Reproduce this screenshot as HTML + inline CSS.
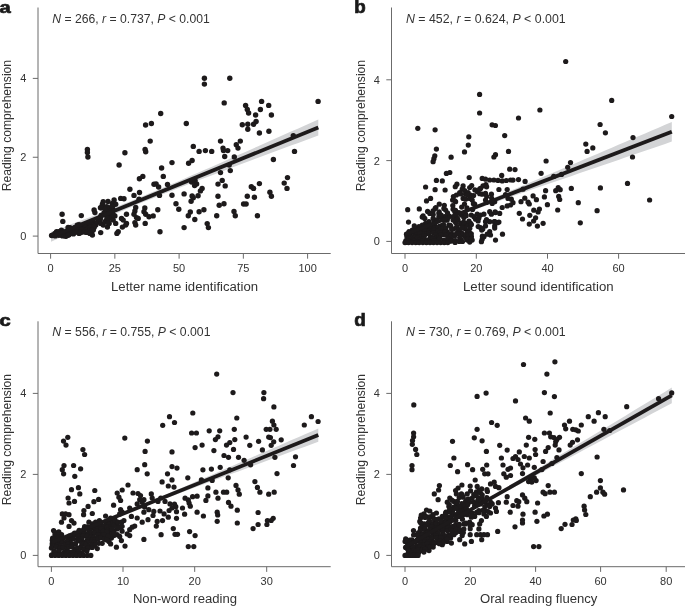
<!DOCTYPE html><html><head><meta charset="utf-8"><title>Figure</title><style>html,body{margin:0;padding:0;background:#fff}svg{display:block}</style></head><body><svg width="685" height="606" viewBox="0 0 685 606" style="display:block"><rect width="685" height="606" fill="#fff"/><g font-family="'Liberation Sans', Arial, sans-serif" font-size="11.5" fill="#333"><path d="M38 7.5V253.5H330.7" fill="none" stroke="#6b6b6b" stroke-width="1"/><path d="M50.6 253.5v5.2" stroke="#6b6b6b" stroke-width="1"/><text x="50.6" y="272.4" text-anchor="middle" font-size="11">0</text><path d="M114.85 253.5v5.2" stroke="#6b6b6b" stroke-width="1"/><text x="114.85" y="272.4" text-anchor="middle" font-size="11">25</text><path d="M179.1 253.5v5.2" stroke="#6b6b6b" stroke-width="1"/><text x="179.1" y="272.4" text-anchor="middle" font-size="11">50</text><path d="M243.35 253.5v5.2" stroke="#6b6b6b" stroke-width="1"/><text x="243.35" y="272.4" text-anchor="middle" font-size="11">75</text><path d="M307.6 253.5v5.2" stroke="#6b6b6b" stroke-width="1"/><text x="307.6" y="272.4" text-anchor="middle" font-size="11">100</text><path d="M38 236.1h-5.2" stroke="#6b6b6b" stroke-width="1"/><text x="26.4" y="240.0" text-anchor="end" font-size="11">0</text><path d="M38 157.25h-5.2" stroke="#6b6b6b" stroke-width="1"/><text x="26.4" y="161.15" text-anchor="end" font-size="11">2</text><path d="M38 78.4h-5.2" stroke="#6b6b6b" stroke-width="1"/><text x="26.4" y="82.30000000000001" text-anchor="end" font-size="11">4</text><text x="111" y="291" font-size="12" textLength="147.1" lengthAdjust="spacingAndGlyphs">Letter name identification</text><text transform="translate(10.9 191.3) rotate(-90)" font-size="12" textLength="131.4" lengthAdjust="spacingAndGlyphs">Reading comprehension</text><text x="-0.6" y="13.0" font-weight="bold" font-size="16.8" fill="#1a1a1a" stroke="#1a1a1a" stroke-width="0.7" textLength="11.2" lengthAdjust="spacingAndGlyphs">a</text><text x="52.3" y="23.0" font-size="12" textLength="157.5" lengthAdjust="spacingAndGlyphs"><tspan font-style="italic">N</tspan> = 266, <tspan font-style="italic">r</tspan> = 0.737, <tspan font-style="italic">P</tspan> &lt; 0.001</text><path d="M51.0 231.9L57.7 229.4L64.4 226.9L71.0 224.3L77.7 221.8L84.4 219.2L91.1 216.7L97.8 214.1L104.5 211.5L111.1 208.8L117.8 206.2L124.5 203.5L131.2 200.9L137.9 198.1L144.6 195.4L151.2 192.6L157.9 189.9L164.6 187.1L171.3 184.2L178.0 181.4L184.7 178.5L191.3 175.6L198.0 172.7L204.7 169.8L211.4 166.9L218.1 164.0L224.7 161.0L231.4 158.1L238.1 155.1L244.8 152.2L251.5 149.2L258.2 146.2L264.8 143.3L271.5 140.3L278.2 137.3L284.9 134.3L291.6 131.3L298.3 128.4L304.9 125.4L311.6 122.4L318.3 119.4L318.3 135.4L311.6 137.9L304.9 140.4L298.3 142.9L291.6 145.3L284.9 147.8L278.2 150.3L271.5 152.8L264.8 155.3L258.2 157.8L251.5 160.3L244.8 162.8L238.1 165.3L231.4 167.8L224.7 170.4L218.1 172.9L211.4 175.4L204.7 178.0L198.0 180.5L191.3 183.1L184.7 185.7L178.0 188.3L171.3 190.9L164.6 193.6L157.9 196.2L151.2 198.9L144.6 201.6L137.9 204.3L131.2 207.1L124.5 209.9L117.8 212.7L111.1 215.5L104.5 218.4L97.8 221.2L91.1 224.1L84.4 227.0L77.7 229.9L71.0 232.9L64.4 235.8L57.7 238.7L51.0 241.7Z" fill="#d3d4d6"/><g fill="#1d1a1b"><circle cx="204.4" cy="78.3" r="2.7"/><circle cx="204.4" cy="84.1" r="2.7"/><circle cx="229.8" cy="78.3" r="2.7"/><circle cx="318.1" cy="101.4" r="2.7"/><circle cx="224.2" cy="102.9" r="2.7"/><circle cx="261.6" cy="101.4" r="2.7"/><circle cx="245.6" cy="105.4" r="2.7"/><circle cx="268.7" cy="105.4" r="2.7"/><circle cx="260.4" cy="109.5" r="2.7"/><circle cx="247.3" cy="109.5" r="2.7"/><circle cx="248.6" cy="113.0" r="2.7"/><circle cx="255.6" cy="115.0" r="2.7"/><circle cx="271.4" cy="115.0" r="2.7"/><circle cx="186.3" cy="123.5" r="2.7"/><circle cx="242.3" cy="124.8" r="2.7"/><circle cx="247.8" cy="124.3" r="2.7"/><circle cx="256.1" cy="121.5" r="2.7"/><circle cx="253.6" cy="124.3" r="2.7"/><circle cx="247.8" cy="129.3" r="2.7"/><circle cx="259.4" cy="133.0" r="2.7"/><circle cx="268.9" cy="131.3" r="2.7"/><circle cx="220.5" cy="141.1" r="2.7"/><circle cx="240.3" cy="141.1" r="2.7"/><circle cx="236.3" cy="144.8" r="2.7"/><circle cx="238.0" cy="148.1" r="2.7"/><circle cx="193.3" cy="146.4" r="2.7"/><circle cx="223.0" cy="148.1" r="2.7"/><circle cx="227.7" cy="150.6" r="2.7"/><circle cx="205.4" cy="150.6" r="2.7"/><circle cx="211.7" cy="151.4" r="2.7"/><circle cx="199.1" cy="151.4" r="2.7"/><circle cx="293.3" cy="135.6" r="2.7"/><circle cx="294.5" cy="151.4" r="2.7"/><circle cx="273.4" cy="159.5" r="2.7"/><circle cx="287.5" cy="177.6" r="2.7"/><circle cx="284.2" cy="183.1" r="2.7"/><circle cx="287.0" cy="188.4" r="2.7"/><circle cx="259.4" cy="183.6" r="2.7"/><circle cx="251.3" cy="186.7" r="2.7"/><circle cx="253.6" cy="188.4" r="2.7"/><circle cx="269.9" cy="192.2" r="2.7"/><circle cx="271.4" cy="196.2" r="2.7"/><circle cx="247.3" cy="196.2" r="2.7"/><circle cx="254.4" cy="197.2" r="2.7"/><circle cx="243.6" cy="204.0" r="2.7"/><circle cx="246.1" cy="204.0" r="2.7"/><circle cx="257.4" cy="215.8" r="2.7"/><circle cx="234.0" cy="211.5" r="2.7"/><circle cx="235.3" cy="215.8" r="2.7"/><circle cx="224.0" cy="203.7" r="2.7"/><circle cx="219.2" cy="205.2" r="2.7"/><circle cx="218.0" cy="196.2" r="2.7"/><circle cx="218.0" cy="184.1" r="2.7"/><circle cx="222.2" cy="180.4" r="2.7"/><circle cx="225.2" cy="185.9" r="2.7"/><circle cx="220.5" cy="172.6" r="2.7"/><circle cx="230.3" cy="170.6" r="2.7"/><circle cx="229.2" cy="165.1" r="2.7"/><circle cx="234.3" cy="157.0" r="2.7"/><circle cx="224.7" cy="156.5" r="2.7"/><circle cx="223.5" cy="150.5" r="2.7"/><circle cx="192.1" cy="160.5" r="2.7"/><circle cx="188.6" cy="163.3" r="2.7"/><circle cx="191.6" cy="182.1" r="2.7"/><circle cx="195.1" cy="180.6" r="2.7"/><circle cx="196.6" cy="183.9" r="2.7"/><circle cx="194.6" cy="185.6" r="2.7"/><circle cx="202.1" cy="188.4" r="2.7"/><circle cx="200.4" cy="190.9" r="2.7"/><circle cx="198.1" cy="195.7" r="2.7"/><circle cx="192.1" cy="195.9" r="2.7"/><circle cx="193.3" cy="197.7" r="2.7"/><circle cx="191.1" cy="201.2" r="2.7"/><circle cx="184.1" cy="193.9" r="2.7"/><circle cx="176.0" cy="203.7" r="2.7"/><circle cx="178.8" cy="209.2" r="2.7"/><circle cx="190.3" cy="212.0" r="2.7"/><circle cx="188.3" cy="215.8" r="2.7"/><circle cx="199.1" cy="211.8" r="2.7"/><circle cx="203.9" cy="209.7" r="2.7"/><circle cx="194.8" cy="219.5" r="2.7"/><circle cx="216.7" cy="215.8" r="2.7"/><circle cx="207.2" cy="223.6" r="2.7"/><circle cx="208.4" cy="227.6" r="2.7"/><circle cx="184.1" cy="227.6" r="2.7"/><circle cx="172.0" cy="195.2" r="2.7"/><circle cx="172.0" cy="162.6" r="2.7"/><circle cx="87.4" cy="152.5" r="2.7"/><circle cx="87.9" cy="157.0" r="2.7"/><circle cx="124.9" cy="152.8" r="2.7"/><circle cx="145.7" cy="151.7" r="2.7"/><circle cx="119.1" cy="165.0" r="2.7"/><circle cx="142.8" cy="176.4" r="2.7"/><circle cx="139.4" cy="178.7" r="2.7"/><circle cx="129.9" cy="189.2" r="2.7"/><circle cx="139.5" cy="192.5" r="2.7"/><circle cx="134.0" cy="195.4" r="2.7"/><circle cx="154.0" cy="184.2" r="2.7"/><circle cx="120.7" cy="198.4" r="2.7"/><circle cx="124.0" cy="198.7" r="2.7"/><circle cx="139.0" cy="199.2" r="2.7"/><circle cx="114.1" cy="200.0" r="2.7"/><circle cx="103.2" cy="201.7" r="2.7"/><circle cx="112.4" cy="203.4" r="2.7"/><circle cx="102.4" cy="204.2" r="2.7"/><circle cx="115.7" cy="204.2" r="2.7"/><circle cx="94.1" cy="210.0" r="2.7"/><circle cx="94.9" cy="212.6" r="2.7"/><circle cx="81.3" cy="215.6" r="2.7"/><circle cx="62.1" cy="214.2" r="2.7"/><circle cx="62.8" cy="221.4" r="2.7"/><circle cx="144.8" cy="208.0" r="2.7"/><circle cx="144.0" cy="211.7" r="2.7"/><circle cx="145.7" cy="214.2" r="2.7"/><circle cx="149.0" cy="216.7" r="2.7"/><circle cx="153.2" cy="215.9" r="2.7"/><circle cx="135.7" cy="207.5" r="2.7"/><circle cx="134.9" cy="210.9" r="2.7"/><circle cx="134.0" cy="214.2" r="2.7"/><circle cx="136.5" cy="217.6" r="2.7"/><circle cx="138.2" cy="218.4" r="2.7"/><circle cx="126.5" cy="214.2" r="2.7"/><circle cx="121.5" cy="218.4" r="2.7"/><circle cx="123.2" cy="220.1" r="2.7"/><circle cx="126.5" cy="223.4" r="2.7"/><circle cx="125.7" cy="225.1" r="2.7"/><circle cx="115.7" cy="223.4" r="2.7"/><circle cx="134.9" cy="222.6" r="2.7"/><circle cx="135.7" cy="225.1" r="2.7"/><circle cx="145.2" cy="223.4" r="2.7"/><circle cx="122.4" cy="227.1" r="2.7"/><circle cx="118.2" cy="231.7" r="2.7"/><circle cx="116.9" cy="233.4" r="2.7"/><circle cx="100.7" cy="232.6" r="2.7"/><circle cx="107.4" cy="227.1" r="2.7"/><circle cx="109.1" cy="223.4" r="2.7"/><circle cx="104.9" cy="207.5" r="2.7"/><circle cx="106.6" cy="209.2" r="2.7"/><circle cx="108.2" cy="210.9" r="2.7"/><circle cx="109.9" cy="208.4" r="2.7"/><circle cx="111.6" cy="206.7" r="2.7"/><circle cx="104.1" cy="212.6" r="2.7"/><circle cx="105.7" cy="215.1" r="2.7"/><circle cx="107.4" cy="216.7" r="2.7"/><circle cx="109.9" cy="215.1" r="2.7"/><circle cx="111.6" cy="212.6" r="2.7"/><circle cx="113.2" cy="210.0" r="2.7"/><circle cx="100.7" cy="216.7" r="2.7"/><circle cx="99.1" cy="219.2" r="2.7"/><circle cx="98.2" cy="221.7" r="2.7"/><circle cx="100.7" cy="223.4" r="2.7"/><circle cx="103.2" cy="225.1" r="2.7"/><circle cx="104.9" cy="221.7" r="2.7"/><circle cx="106.6" cy="220.1" r="2.7"/><circle cx="109.1" cy="218.4" r="2.7"/><circle cx="111.6" cy="217.6" r="2.7"/><circle cx="113.2" cy="220.1" r="2.7"/><circle cx="114.9" cy="215.9" r="2.7"/><circle cx="95.8" cy="225.1" r="2.7"/><circle cx="94.1" cy="227.6" r="2.7"/><circle cx="93.3" cy="230.1" r="2.7"/><circle cx="91.6" cy="232.6" r="2.7"/><circle cx="92.4" cy="235.1" r="2.7"/><circle cx="89.9" cy="233.4" r="2.7"/><circle cx="88.3" cy="225.1" r="2.7"/><circle cx="86.6" cy="226.7" r="2.7"/><circle cx="84.9" cy="227.6" r="2.7"/><circle cx="83.3" cy="228.4" r="2.7"/><circle cx="81.6" cy="229.2" r="2.7"/><circle cx="79.9" cy="230.1" r="2.7"/><circle cx="78.3" cy="228.4" r="2.7"/><circle cx="76.6" cy="229.2" r="2.7"/><circle cx="74.9" cy="227.6" r="2.7"/><circle cx="73.3" cy="228.4" r="2.7"/><circle cx="71.6" cy="230.1" r="2.7"/><circle cx="70.0" cy="227.6" r="2.7"/><circle cx="68.3" cy="230.9" r="2.7"/><circle cx="66.6" cy="231.7" r="2.7"/><circle cx="65.0" cy="232.6" r="2.7"/><circle cx="63.3" cy="233.4" r="2.7"/><circle cx="61.6" cy="234.2" r="2.7"/><circle cx="60.0" cy="233.4" r="2.7"/><circle cx="58.3" cy="232.6" r="2.7"/><circle cx="56.6" cy="231.7" r="2.7"/><circle cx="55.0" cy="233.4" r="2.7"/><circle cx="53.3" cy="235.1" r="2.7"/><circle cx="51.6" cy="235.4" r="2.7"/><circle cx="80.8" cy="232.6" r="2.7"/><circle cx="79.1" cy="233.4" r="2.7"/><circle cx="70.8" cy="233.4" r="2.7"/><circle cx="69.1" cy="234.2" r="2.7"/><circle cx="65.0" cy="235.9" r="2.7"/><circle cx="62.5" cy="235.9" r="2.7"/><circle cx="89.9" cy="228.4" r="2.7"/><circle cx="91.6" cy="226.7" r="2.7"/><circle cx="89.1" cy="230.1" r="2.7"/><circle cx="160.7" cy="113.5" r="2.7"/><circle cx="151.4" cy="123.5" r="2.7"/><circle cx="145.6" cy="125.0" r="2.7"/><circle cx="150.2" cy="141.1" r="2.7"/><circle cx="87.4" cy="149.4" r="2.7"/><circle cx="145.1" cy="149.4" r="2.7"/><circle cx="161.6" cy="168.0" r="2.7"/><circle cx="163.3" cy="176.4" r="2.7"/><circle cx="156.1" cy="183.9" r="2.7"/><circle cx="158.6" cy="187.0" r="2.7"/><circle cx="167.5" cy="184.5" r="2.7"/><circle cx="159.5" cy="195.4" r="2.7"/><circle cx="157.8" cy="209.7" r="2.7"/><circle cx="160.0" cy="231.7" r="2.7"/><circle cx="94.4" cy="222.6" r="2.7"/><circle cx="77.2" cy="225.2" r="2.7"/><circle cx="79.0" cy="224.8" r="2.7"/><circle cx="83.2" cy="225.8" r="2.7"/><circle cx="87.2" cy="224.0" r="2.7"/><circle cx="91.4" cy="223.4" r="2.7"/><circle cx="93.1" cy="225.4" r="2.7"/><circle cx="68.1" cy="227.4" r="2.7"/><circle cx="72.3" cy="228.9" r="2.7"/><circle cx="74.6" cy="228.1" r="2.7"/><circle cx="76.7" cy="228.2" r="2.7"/><circle cx="81.9" cy="229.1" r="2.7"/><circle cx="85.8" cy="226.9" r="2.7"/><circle cx="87.9" cy="228.1" r="2.7"/><circle cx="90.2" cy="227.4" r="2.7"/><circle cx="94.0" cy="226.4" r="2.7"/><circle cx="59.0" cy="231.6" r="2.7"/><circle cx="61.4" cy="230.3" r="2.7"/><circle cx="66.3" cy="231.7" r="2.7"/><circle cx="70.5" cy="231.6" r="2.7"/><circle cx="72.3" cy="230.2" r="2.7"/><circle cx="75.9" cy="231.7" r="2.7"/><circle cx="81.1" cy="229.4" r="2.7"/><circle cx="82.1" cy="229.7" r="2.7"/><circle cx="85.7" cy="230.5" r="2.7"/><circle cx="90.2" cy="229.8" r="2.7"/><circle cx="91.8" cy="230.3" r="2.7"/><circle cx="55.6" cy="234.0" r="2.7"/><circle cx="57.7" cy="233.8" r="2.7"/><circle cx="61.6" cy="232.1" r="2.7"/><circle cx="65.7" cy="234.3" r="2.7"/><circle cx="69.0" cy="234.4" r="2.7"/><circle cx="70.9" cy="233.1" r="2.7"/><circle cx="73.4" cy="233.9" r="2.7"/><circle cx="76.7" cy="232.1" r="2.7"/><circle cx="80.5" cy="232.4" r="2.7"/><circle cx="84.3" cy="232.1" r="2.7"/><circle cx="86.7" cy="232.4" r="2.7"/><circle cx="90.4" cy="233.0" r="2.7"/><circle cx="52.9" cy="235.3" r="2.7"/><circle cx="55.2" cy="235.9" r="2.7"/><circle cx="58.9" cy="235.2" r="2.7"/><circle cx="66.0" cy="236.3" r="2.7"/><circle cx="68.3" cy="235.2" r="2.7"/><circle cx="108.0" cy="201.5" r="2.7"/><circle cx="100.5" cy="207.8" r="2.7"/><circle cx="106.7" cy="206.8" r="2.7"/><circle cx="112.6" cy="206.5" r="2.7"/><circle cx="101.1" cy="207.8" r="2.7"/><circle cx="105.3" cy="209.2" r="2.7"/><circle cx="112.5" cy="211.4" r="2.7"/><circle cx="101.3" cy="215.3" r="2.7"/><circle cx="107.2" cy="218.2" r="2.7"/><circle cx="113.3" cy="214.9" r="2.7"/><circle cx="100.2" cy="219.2" r="2.7"/><circle cx="108.5" cy="222.9" r="2.7"/></g><path d="M51 236.8L318.3 127.4" stroke="#1d1a1b" stroke-width="3.8" fill="none"/><path d="M391.5 7.5V253.5H685" fill="none" stroke="#6b6b6b" stroke-width="1"/><path d="M405 253.5v5.2" stroke="#6b6b6b" stroke-width="1"/><text x="405" y="272.4" text-anchor="middle" font-size="11">0</text><path d="M476.3 253.5v5.2" stroke="#6b6b6b" stroke-width="1"/><text x="476.3" y="272.4" text-anchor="middle" font-size="11">20</text><path d="M547.5 253.5v5.2" stroke="#6b6b6b" stroke-width="1"/><text x="547.5" y="272.4" text-anchor="middle" font-size="11">40</text><path d="M618.6 253.5v5.2" stroke="#6b6b6b" stroke-width="1"/><text x="618.6" y="272.4" text-anchor="middle" font-size="11">60</text><path d="M391.5 241.4h-5.2" stroke="#6b6b6b" stroke-width="1"/><text x="379.9" y="245.3" text-anchor="end" font-size="11">0</text><path d="M391.5 160.6h-5.2" stroke="#6b6b6b" stroke-width="1"/><text x="379.9" y="164.5" text-anchor="end" font-size="11">2</text><path d="M391.5 79.8h-5.2" stroke="#6b6b6b" stroke-width="1"/><text x="379.9" y="83.7" text-anchor="end" font-size="11">4</text><text x="463" y="291" font-size="12" textLength="150.6" lengthAdjust="spacingAndGlyphs">Letter sound identification</text><text transform="translate(364.5 191.3) rotate(-90)" font-size="12" textLength="131.4" lengthAdjust="spacingAndGlyphs">Reading comprehension</text><text x="354.3" y="13.0" font-weight="bold" font-size="17.8" fill="#1a1a1a" stroke="#1a1a1a" stroke-width="0.7" textLength="11.5" lengthAdjust="spacingAndGlyphs">b</text><text x="406" y="23.0" font-size="12" textLength="159.7" lengthAdjust="spacingAndGlyphs"><tspan font-style="italic">N</tspan> = 452, <tspan font-style="italic">r</tspan> = 0.624, <tspan font-style="italic">P</tspan> &lt; 0.001</text><path d="M405.0 232.1L411.7 229.8L418.3 227.4L425.0 225.0L431.7 222.6L438.4 220.1L445.0 217.6L451.7 215.0L458.4 212.4L465.0 209.7L471.7 207.0L478.4 204.3L485.0 201.5L491.7 198.7L498.4 195.9L505.0 193.1L511.7 190.3L518.4 187.5L525.1 184.6L531.7 181.8L538.4 179.0L545.1 176.1L551.7 173.3L558.4 170.4L565.1 167.6L571.8 164.7L578.4 161.9L585.1 159.1L591.8 156.2L598.4 153.4L605.1 150.5L611.8 147.7L618.4 144.8L625.1 142.0L631.8 139.1L638.4 136.3L645.1 133.4L651.8 130.6L658.5 127.7L665.1 124.8L671.8 122.0L671.8 141.6L665.1 143.9L658.5 146.2L651.8 148.5L645.1 150.7L638.4 153.0L631.8 155.3L625.1 157.6L618.4 159.9L611.8 162.2L605.1 164.4L598.4 166.7L591.8 169.0L585.1 171.3L578.4 173.6L571.8 175.9L565.1 178.2L558.4 180.5L551.7 182.8L545.1 185.0L538.4 187.3L531.7 189.6L525.1 191.9L518.4 194.2L511.7 196.6L505.0 198.9L498.4 201.2L491.7 203.5L485.0 205.9L478.4 208.3L471.7 210.6L465.0 213.1L458.4 215.5L451.7 218.0L445.0 220.6L438.4 223.2L431.7 225.9L425.0 228.6L418.3 231.3L411.7 234.1L405.0 236.9Z" fill="#d3d4d6"/><g fill="#1d1a1b"><circle cx="479.6" cy="94.4" r="2.62"/><circle cx="479.6" cy="113.0" r="2.62"/><circle cx="417.8" cy="128.3" r="2.62"/><circle cx="435.1" cy="129.8" r="2.62"/><circle cx="492.1" cy="124.8" r="2.62"/><circle cx="495.4" cy="125.5" r="2.62"/><circle cx="468.8" cy="136.8" r="2.62"/><circle cx="504.7" cy="135.6" r="2.62"/><circle cx="468.3" cy="145.1" r="2.62"/><circle cx="436.4" cy="149.1" r="2.62"/><circle cx="508.5" cy="151.4" r="2.62"/><circle cx="464.5" cy="151.9" r="2.62"/><circle cx="565.7" cy="61.5" r="2.62"/><circle cx="611.7" cy="100.4" r="2.62"/><circle cx="539.9" cy="110.0" r="2.62"/><circle cx="518.5" cy="118.0" r="2.62"/><circle cx="671.7" cy="116.5" r="2.62"/><circle cx="600.1" cy="124.5" r="2.62"/><circle cx="605.4" cy="132.8" r="2.62"/><circle cx="633.0" cy="137.6" r="2.62"/><circle cx="585.8" cy="144.1" r="2.62"/><circle cx="592.8" cy="147.9" r="2.62"/><circle cx="587.1" cy="151.4" r="2.62"/><circle cx="632.5" cy="157.0" r="2.62"/><circle cx="546.1" cy="161.0" r="2.62"/><circle cx="570.5" cy="162.6" r="2.62"/><circle cx="567.7" cy="167.3" r="2.62"/><circle cx="541.1" cy="173.3" r="2.62"/><circle cx="515.0" cy="169.6" r="2.62"/><circle cx="518.5" cy="179.6" r="2.62"/><circle cx="525.1" cy="181.4" r="2.62"/><circle cx="513.0" cy="180.1" r="2.62"/><circle cx="553.7" cy="176.4" r="2.62"/><circle cx="561.5" cy="174.4" r="2.62"/><circle cx="523.0" cy="189.2" r="2.62"/><circle cx="545.6" cy="190.7" r="2.62"/><circle cx="558.2" cy="187.7" r="2.62"/><circle cx="555.7" cy="190.7" r="2.62"/><circle cx="560.2" cy="189.7" r="2.62"/><circle cx="571.3" cy="188.4" r="2.62"/><circle cx="600.4" cy="187.9" r="2.62"/><circle cx="627.5" cy="183.4" r="2.62"/><circle cx="649.6" cy="200.0" r="2.62"/><circle cx="533.1" cy="195.9" r="2.62"/><circle cx="544.4" cy="196.9" r="2.62"/><circle cx="558.7" cy="196.4" r="2.62"/><circle cx="559.7" cy="199.5" r="2.62"/><circle cx="524.8" cy="198.2" r="2.62"/><circle cx="536.4" cy="199.7" r="2.62"/><circle cx="521.0" cy="201.7" r="2.62"/><circle cx="528.1" cy="202.2" r="2.62"/><circle cx="529.3" cy="204.0" r="2.62"/><circle cx="547.4" cy="204.7" r="2.62"/><circle cx="578.3" cy="202.7" r="2.62"/><circle cx="597.1" cy="210.7" r="2.62"/><circle cx="557.7" cy="210.0" r="2.62"/><circle cx="539.4" cy="209.0" r="2.62"/><circle cx="533.8" cy="210.2" r="2.62"/><circle cx="538.1" cy="212.0" r="2.62"/><circle cx="519.3" cy="213.3" r="2.62"/><circle cx="529.8" cy="215.3" r="2.62"/><circle cx="535.6" cy="217.8" r="2.62"/><circle cx="522.5" cy="219.0" r="2.62"/><circle cx="533.6" cy="221.0" r="2.62"/><circle cx="529.3" cy="224.1" r="2.62"/><circle cx="543.1" cy="223.3" r="2.62"/><circle cx="537.4" cy="226.1" r="2.62"/><circle cx="580.3" cy="222.8" r="2.62"/><circle cx="513.0" cy="202.7" r="2.62"/><circle cx="495.5" cy="154.7" r="2.62"/><circle cx="493.9" cy="157.0" r="2.62"/><circle cx="434.8" cy="155.8" r="2.62"/><circle cx="433.9" cy="158.7" r="2.62"/><circle cx="433.1" cy="161.7" r="2.62"/><circle cx="451.1" cy="157.2" r="2.62"/><circle cx="509.7" cy="169.2" r="2.62"/><circle cx="449.8" cy="172.5" r="2.62"/><circle cx="446.4" cy="173.4" r="2.62"/><circle cx="469.2" cy="177.5" r="2.62"/><circle cx="501.7" cy="175.4" r="2.62"/><circle cx="482.2" cy="178.4" r="2.62"/><circle cx="485.5" cy="179.2" r="2.62"/><circle cx="489.7" cy="180.0" r="2.62"/><circle cx="493.9" cy="180.0" r="2.62"/><circle cx="498.0" cy="180.4" r="2.62"/><circle cx="502.2" cy="180.9" r="2.62"/><circle cx="506.3" cy="180.5" r="2.62"/><circle cx="510.5" cy="180.0" r="2.62"/><circle cx="436.4" cy="180.4" r="2.62"/><circle cx="442.3" cy="180.9" r="2.62"/><circle cx="425.6" cy="187.0" r="2.62"/><circle cx="435.1" cy="189.7" r="2.62"/><circle cx="445.1" cy="190.0" r="2.62"/><circle cx="456.9" cy="184.2" r="2.62"/><circle cx="455.3" cy="186.7" r="2.62"/><circle cx="463.1" cy="185.9" r="2.62"/><circle cx="462.2" cy="189.2" r="2.62"/><circle cx="471.7" cy="185.5" r="2.62"/><circle cx="469.7" cy="187.5" r="2.62"/><circle cx="483.0" cy="185.9" r="2.62"/><circle cx="480.5" cy="188.4" r="2.62"/><circle cx="498.9" cy="189.5" r="2.62"/><circle cx="507.2" cy="189.5" r="2.62"/><circle cx="468.1" cy="192.5" r="2.62"/><circle cx="465.6" cy="194.2" r="2.62"/><circle cx="470.6" cy="195.0" r="2.62"/><circle cx="477.2" cy="191.7" r="2.62"/><circle cx="479.7" cy="193.7" r="2.62"/><circle cx="482.2" cy="194.2" r="2.62"/><circle cx="485.5" cy="193.4" r="2.62"/><circle cx="491.4" cy="194.2" r="2.62"/><circle cx="456.4" cy="195.0" r="2.62"/><circle cx="430.6" cy="198.4" r="2.62"/><circle cx="426.5" cy="200.9" r="2.62"/><circle cx="452.6" cy="200.0" r="2.62"/><circle cx="455.6" cy="201.7" r="2.62"/><circle cx="463.1" cy="198.4" r="2.62"/><circle cx="465.6" cy="199.2" r="2.62"/><circle cx="469.7" cy="198.4" r="2.62"/><circle cx="472.2" cy="200.0" r="2.62"/><circle cx="474.7" cy="204.2" r="2.62"/><circle cx="485.5" cy="200.0" r="2.62"/><circle cx="486.4" cy="202.5" r="2.62"/><circle cx="505.5" cy="194.7" r="2.62"/><circle cx="508.0" cy="198.4" r="2.62"/><circle cx="511.3" cy="199.2" r="2.62"/><circle cx="439.3" cy="204.2" r="2.62"/><circle cx="435.9" cy="207.5" r="2.62"/><circle cx="443.9" cy="208.4" r="2.62"/><circle cx="445.6" cy="210.0" r="2.62"/><circle cx="453.1" cy="209.2" r="2.62"/><circle cx="454.8" cy="211.7" r="2.62"/><circle cx="466.9" cy="207.9" r="2.62"/><circle cx="407.7" cy="209.7" r="2.62"/><circle cx="419.3" cy="208.9" r="2.62"/><circle cx="427.6" cy="211.4" r="2.62"/><circle cx="429.8" cy="213.4" r="2.62"/><circle cx="433.1" cy="210.9" r="2.62"/><circle cx="438.9" cy="213.4" r="2.62"/><circle cx="423.1" cy="215.9" r="2.62"/><circle cx="424.8" cy="218.4" r="2.62"/><circle cx="433.1" cy="218.4" r="2.62"/><circle cx="408.5" cy="222.1" r="2.62"/><circle cx="414.3" cy="225.9" r="2.62"/><circle cx="492.2" cy="203.4" r="2.62"/><circle cx="494.7" cy="201.7" r="2.62"/><circle cx="502.2" cy="207.5" r="2.62"/><circle cx="507.2" cy="205.9" r="2.62"/><circle cx="510.5" cy="205.0" r="2.62"/><circle cx="489.7" cy="211.7" r="2.62"/><circle cx="491.4" cy="214.2" r="2.62"/><circle cx="495.5" cy="212.6" r="2.62"/><circle cx="499.7" cy="213.4" r="2.62"/><circle cx="477.2" cy="214.2" r="2.62"/><circle cx="480.5" cy="215.1" r="2.62"/><circle cx="483.9" cy="214.2" r="2.62"/><circle cx="473.9" cy="216.7" r="2.62"/><circle cx="475.6" cy="219.2" r="2.62"/><circle cx="478.1" cy="220.9" r="2.62"/><circle cx="485.5" cy="221.7" r="2.62"/><circle cx="489.7" cy="221.7" r="2.62"/><circle cx="494.7" cy="221.7" r="2.62"/><circle cx="498.9" cy="222.1" r="2.62"/><circle cx="485.5" cy="225.9" r="2.62"/><circle cx="494.7" cy="225.9" r="2.62"/><circle cx="494.7" cy="228.1" r="2.62"/><circle cx="480.5" cy="227.6" r="2.62"/><circle cx="481.7" cy="230.1" r="2.62"/><circle cx="489.7" cy="231.7" r="2.62"/><circle cx="487.2" cy="234.2" r="2.62"/><circle cx="483.9" cy="236.7" r="2.62"/><circle cx="482.2" cy="239.2" r="2.62"/><circle cx="481.4" cy="241.7" r="2.62"/><circle cx="502.5" cy="234.2" r="2.62"/><circle cx="495.5" cy="240.1" r="2.62"/><circle cx="458.9" cy="212.6" r="2.62"/><circle cx="461.4" cy="215.1" r="2.62"/><circle cx="463.9" cy="217.6" r="2.62"/><circle cx="465.6" cy="214.2" r="2.62"/><circle cx="455.6" cy="216.7" r="2.62"/><circle cx="458.1" cy="220.1" r="2.62"/><circle cx="455.6" cy="222.6" r="2.62"/><circle cx="453.1" cy="220.1" r="2.62"/><circle cx="460.6" cy="223.4" r="2.62"/><circle cx="463.1" cy="225.9" r="2.62"/><circle cx="465.6" cy="223.4" r="2.62"/><circle cx="468.1" cy="225.1" r="2.62"/><circle cx="470.6" cy="223.4" r="2.62"/><circle cx="464.7" cy="228.4" r="2.62"/><circle cx="467.2" cy="231.7" r="2.62"/><circle cx="469.7" cy="233.4" r="2.62"/><circle cx="471.4" cy="236.7" r="2.62"/><circle cx="472.2" cy="240.1" r="2.62"/><circle cx="457.2" cy="226.7" r="2.62"/><circle cx="458.9" cy="230.1" r="2.62"/><circle cx="461.4" cy="232.6" r="2.62"/><circle cx="463.9" cy="235.1" r="2.62"/><circle cx="465.6" cy="237.6" r="2.62"/><circle cx="467.2" cy="240.1" r="2.62"/><circle cx="448.9" cy="215.9" r="2.62"/><circle cx="447.3" cy="218.4" r="2.62"/><circle cx="444.8" cy="216.7" r="2.62"/><circle cx="442.3" cy="219.2" r="2.62"/><circle cx="438.9" cy="216.7" r="2.62"/><circle cx="436.4" cy="220.1" r="2.62"/><circle cx="433.9" cy="221.7" r="2.62"/><circle cx="429.0" cy="221.7" r="2.62"/><circle cx="425.6" cy="223.4" r="2.62"/><circle cx="422.3" cy="225.1" r="2.62"/><circle cx="419.0" cy="226.7" r="2.62"/><circle cx="415.6" cy="228.4" r="2.62"/><circle cx="412.3" cy="230.1" r="2.62"/><circle cx="409.0" cy="231.7" r="2.62"/><circle cx="406.5" cy="234.2" r="2.62"/><circle cx="426.3" cy="225.9" r="2.62"/><circle cx="430.1" cy="225.0" r="2.62"/><circle cx="433.0" cy="225.8" r="2.62"/><circle cx="434.7" cy="225.5" r="2.62"/><circle cx="439.5" cy="226.3" r="2.62"/><circle cx="441.6" cy="225.5" r="2.62"/><circle cx="443.5" cy="224.5" r="2.62"/><circle cx="448.9" cy="225.0" r="2.62"/><circle cx="450.3" cy="225.4" r="2.62"/><circle cx="419.5" cy="228.6" r="2.62"/><circle cx="425.4" cy="228.3" r="2.62"/><circle cx="426.9" cy="227.1" r="2.62"/><circle cx="430.4" cy="229.4" r="2.62"/><circle cx="434.4" cy="228.2" r="2.62"/><circle cx="437.9" cy="227.3" r="2.62"/><circle cx="440.1" cy="229.3" r="2.62"/><circle cx="443.5" cy="227.9" r="2.62"/><circle cx="445.8" cy="228.2" r="2.62"/><circle cx="450.9" cy="226.6" r="2.62"/><circle cx="453.7" cy="229.0" r="2.62"/><circle cx="413.0" cy="230.6" r="2.62"/><circle cx="414.8" cy="231.9" r="2.62"/><circle cx="419.4" cy="229.9" r="2.62"/><circle cx="422.4" cy="230.8" r="2.62"/><circle cx="425.2" cy="230.4" r="2.62"/><circle cx="428.9" cy="231.2" r="2.62"/><circle cx="432.4" cy="230.7" r="2.62"/><circle cx="433.9" cy="230.0" r="2.62"/><circle cx="437.5" cy="231.1" r="2.62"/><circle cx="442.7" cy="231.7" r="2.62"/><circle cx="445.7" cy="231.7" r="2.62"/><circle cx="447.3" cy="231.8" r="2.62"/><circle cx="451.7" cy="229.6" r="2.62"/><circle cx="408.8" cy="232.9" r="2.62"/><circle cx="410.1" cy="233.9" r="2.62"/><circle cx="414.0" cy="232.3" r="2.62"/><circle cx="416.7" cy="233.7" r="2.62"/><circle cx="419.9" cy="232.9" r="2.62"/><circle cx="424.6" cy="233.5" r="2.62"/><circle cx="426.7" cy="233.5" r="2.62"/><circle cx="429.1" cy="233.3" r="2.62"/><circle cx="433.4" cy="232.7" r="2.62"/><circle cx="435.7" cy="234.7" r="2.62"/><circle cx="440.1" cy="232.7" r="2.62"/><circle cx="443.5" cy="234.5" r="2.62"/><circle cx="445.1" cy="232.2" r="2.62"/><circle cx="448.6" cy="234.2" r="2.62"/><circle cx="451.9" cy="234.2" r="2.62"/><circle cx="406.9" cy="236.5" r="2.62"/><circle cx="408.8" cy="237.7" r="2.62"/><circle cx="413.7" cy="236.4" r="2.62"/><circle cx="415.2" cy="236.8" r="2.62"/><circle cx="418.9" cy="236.6" r="2.62"/><circle cx="421.9" cy="236.7" r="2.62"/><circle cx="424.4" cy="235.8" r="2.62"/><circle cx="430.2" cy="237.4" r="2.62"/><circle cx="431.5" cy="237.4" r="2.62"/><circle cx="434.7" cy="237.6" r="2.62"/><circle cx="439.1" cy="236.1" r="2.62"/><circle cx="440.9" cy="234.9" r="2.62"/><circle cx="445.9" cy="235.0" r="2.62"/><circle cx="449.0" cy="237.7" r="2.62"/><circle cx="451.4" cy="235.4" r="2.62"/><circle cx="405.9" cy="240.5" r="2.62"/><circle cx="408.6" cy="239.2" r="2.62"/><circle cx="410.9" cy="238.7" r="2.62"/><circle cx="413.6" cy="239.6" r="2.62"/><circle cx="417.4" cy="238.2" r="2.62"/><circle cx="419.7" cy="239.6" r="2.62"/><circle cx="423.4" cy="239.1" r="2.62"/><circle cx="426.7" cy="240.2" r="2.62"/><circle cx="431.6" cy="237.7" r="2.62"/><circle cx="432.8" cy="238.6" r="2.62"/><circle cx="438.2" cy="239.9" r="2.62"/><circle cx="439.6" cy="238.3" r="2.62"/><circle cx="443.7" cy="240.1" r="2.62"/><circle cx="447.7" cy="238.7" r="2.62"/><circle cx="450.7" cy="239.7" r="2.62"/><circle cx="452.8" cy="240.5" r="2.62"/><circle cx="405.7" cy="242.5" r="2.62"/><circle cx="408.4" cy="240.9" r="2.62"/><circle cx="414.0" cy="241.1" r="2.62"/><circle cx="416.8" cy="242.2" r="2.62"/><circle cx="420.2" cy="241.5" r="2.62"/><circle cx="422.0" cy="241.3" r="2.62"/><circle cx="426.7" cy="242.2" r="2.62"/><circle cx="431.0" cy="242.0" r="2.62"/><circle cx="434.1" cy="240.6" r="2.62"/><circle cx="444.4" cy="242.2" r="2.62"/><circle cx="448.8" cy="241.5" r="2.62"/><circle cx="451.4" cy="241.1" r="2.62"/><circle cx="456.6" cy="227.0" r="2.62"/><circle cx="458.6" cy="229.9" r="2.62"/><circle cx="462.3" cy="227.5" r="2.62"/><circle cx="469.8" cy="228.2" r="2.62"/><circle cx="456.6" cy="233.4" r="2.62"/><circle cx="461.6" cy="233.6" r="2.62"/><circle cx="467.5" cy="231.2" r="2.62"/><circle cx="469.1" cy="231.8" r="2.62"/><circle cx="454.6" cy="235.9" r="2.62"/><circle cx="458.3" cy="233.6" r="2.62"/><circle cx="465.7" cy="234.7" r="2.62"/><circle cx="468.3" cy="235.2" r="2.62"/><circle cx="471.3" cy="233.8" r="2.62"/><circle cx="455.5" cy="240.5" r="2.62"/><circle cx="459.7" cy="237.5" r="2.62"/><circle cx="461.0" cy="239.3" r="2.62"/><circle cx="467.7" cy="239.0" r="2.62"/><circle cx="470.7" cy="239.4" r="2.62"/><circle cx="455.1" cy="242.5" r="2.62"/><circle cx="459.3" cy="241.4" r="2.62"/><circle cx="462.5" cy="241.5" r="2.62"/><circle cx="469.7" cy="242.1" r="2.62"/><circle cx="444.3" cy="205.3" r="2.62"/><circle cx="452.8" cy="205.6" r="2.62"/><circle cx="435.2" cy="208.4" r="2.62"/><circle cx="439.2" cy="211.9" r="2.62"/><circle cx="447.5" cy="212.9" r="2.62"/><circle cx="422.2" cy="217.1" r="2.62"/><circle cx="433.2" cy="214.5" r="2.62"/><circle cx="441.2" cy="215.1" r="2.62"/><circle cx="447.1" cy="220.2" r="2.62"/><circle cx="437.3" cy="220.9" r="2.62"/><circle cx="444.4" cy="220.2" r="2.62"/><circle cx="485.9" cy="184.5" r="2.62"/><circle cx="459.7" cy="192.5" r="2.62"/><circle cx="464.7" cy="190.6" r="2.62"/><circle cx="474.9" cy="189.9" r="2.62"/><circle cx="479.6" cy="189.1" r="2.62"/><circle cx="486.6" cy="186.8" r="2.62"/><circle cx="453.4" cy="196.6" r="2.62"/><circle cx="460.8" cy="194.0" r="2.62"/><circle cx="467.3" cy="194.6" r="2.62"/><circle cx="473.6" cy="195.5" r="2.62"/><circle cx="486.7" cy="196.5" r="2.62"/><circle cx="491.6" cy="198.0" r="2.62"/><circle cx="454.4" cy="200.6" r="2.62"/><circle cx="464.5" cy="204.1" r="2.62"/><circle cx="473.4" cy="203.7" r="2.62"/><circle cx="461.7" cy="207.1" r="2.62"/><circle cx="472.6" cy="209.5" r="2.62"/><circle cx="455.5" cy="210.3" r="2.62"/><circle cx="466.2" cy="215.7" r="2.62"/><circle cx="471.3" cy="215.0" r="2.62"/><circle cx="457.4" cy="218.4" r="2.62"/><circle cx="463.6" cy="222.0" r="2.62"/><circle cx="469.0" cy="221.0" r="2.62"/><circle cx="471.4" cy="224.5" r="2.62"/><circle cx="495.1" cy="211.8" r="2.62"/><circle cx="478.9" cy="217.9" r="2.62"/><circle cx="486.5" cy="219.7" r="2.62"/><circle cx="494.4" cy="221.7" r="2.62"/><circle cx="478.2" cy="226.6" r="2.62"/><circle cx="482.8" cy="228.9" r="2.62"/><circle cx="497.4" cy="222.7" r="2.62"/><circle cx="482.4" cy="236.2" r="2.62"/><circle cx="490.5" cy="235.0" r="2.62"/><circle cx="405.0" cy="242.6" r="2.62"/><circle cx="408.565" cy="242.6" r="2.62"/><circle cx="412.13" cy="242.6" r="2.62"/><circle cx="415.695" cy="242.6" r="2.62"/><circle cx="419.26" cy="242.6" r="2.62"/><circle cx="422.825" cy="242.6" r="2.62"/><circle cx="426.39" cy="242.6" r="2.62"/><circle cx="429.955" cy="242.6" r="2.62"/><circle cx="433.52" cy="242.6" r="2.62"/><circle cx="437.085" cy="242.6" r="2.62"/><circle cx="440.65" cy="242.6" r="2.62"/><circle cx="444.215" cy="242.6" r="2.62"/><circle cx="447.78" cy="242.6" r="2.62"/></g><path d="M405 234.5L671.8 131.8" stroke="#1d1a1b" stroke-width="3.8" fill="none"/><path d="M38 321.3V566.7H330.7" fill="none" stroke="#6b6b6b" stroke-width="1"/><path d="M51.4 566.7v5.2" stroke="#6b6b6b" stroke-width="1"/><text x="51.4" y="585.0" text-anchor="middle" font-size="11">0</text><path d="M123 566.7v5.2" stroke="#6b6b6b" stroke-width="1"/><text x="123" y="585.0" text-anchor="middle" font-size="11">10</text><path d="M194.7 566.7v5.2" stroke="#6b6b6b" stroke-width="1"/><text x="194.7" y="585.0" text-anchor="middle" font-size="11">20</text><path d="M266.7 566.7v5.2" stroke="#6b6b6b" stroke-width="1"/><text x="266.7" y="585.0" text-anchor="middle" font-size="11">30</text><path d="M38 555.4h-5.2" stroke="#6b6b6b" stroke-width="1"/><text x="26.4" y="559.3" text-anchor="end" font-size="11">0</text><path d="M38 474.4h-5.2" stroke="#6b6b6b" stroke-width="1"/><text x="26.4" y="478.29999999999995" text-anchor="end" font-size="11">2</text><path d="M38 393.4h-5.2" stroke="#6b6b6b" stroke-width="1"/><text x="26.4" y="397.29999999999995" text-anchor="end" font-size="11">4</text><text x="132.9" y="603" font-size="12" textLength="104.2" lengthAdjust="spacingAndGlyphs">Non-word reading</text><text transform="translate(10.9 505.2) rotate(-90)" font-size="12" textLength="131.3" lengthAdjust="spacingAndGlyphs">Reading comprehension</text><text x="-0.6" y="326.4" font-weight="bold" font-size="16.8" fill="#1a1a1a" stroke="#1a1a1a" stroke-width="0.7" textLength="11.2" lengthAdjust="spacingAndGlyphs">c</text><text x="52.3" y="335.8" font-size="12" textLength="158.2" lengthAdjust="spacingAndGlyphs"><tspan font-style="italic">N</tspan> = 556, <tspan font-style="italic">r</tspan> = 0.755, <tspan font-style="italic">P</tspan> &lt; 0.001</text><path d="M51.5 539.8L58.2 537.3L64.8 534.8L71.5 532.3L78.2 529.8L84.8 527.3L91.5 524.8L98.2 522.2L104.9 519.7L111.5 517.1L118.2 514.4L124.9 511.8L131.5 509.0L138.2 506.3L144.9 503.5L151.6 500.7L158.2 497.9L164.9 495.0L171.6 492.1L178.2 489.3L184.9 486.4L191.6 483.5L198.2 480.6L204.9 477.8L211.6 474.9L218.2 472.0L224.9 469.1L231.6 466.2L238.3 463.3L244.9 460.4L251.6 457.5L258.3 454.6L264.9 451.7L271.6 448.8L278.3 445.9L284.9 443.0L291.6 440.1L298.3 437.2L305.0 434.3L311.6 431.4L318.3 428.4L318.3 441.8L311.6 444.2L305.0 446.7L298.3 449.1L291.6 451.6L284.9 454.1L278.3 456.5L271.6 459.0L264.9 461.5L258.3 464.0L251.6 466.4L244.9 468.9L238.3 471.4L231.6 473.8L224.9 476.3L218.2 478.8L211.6 481.3L204.9 483.7L198.2 486.2L191.6 488.7L184.9 491.2L178.2 493.7L171.6 496.2L164.9 498.7L158.2 501.2L151.6 503.8L144.9 506.3L138.2 508.9L131.5 511.5L124.9 514.2L118.2 516.9L111.5 519.6L104.9 522.4L98.2 525.2L91.5 528.0L84.8 530.8L78.2 533.7L71.5 536.5L64.8 539.4L58.2 542.3L51.5 545.2Z" fill="#d3d4d6"/><g fill="#1d1a1b"><circle cx="169.5" cy="416.7" r="2.62"/><circle cx="162.7" cy="425.3" r="2.62"/><circle cx="67.8" cy="437.3" r="2.62"/><circle cx="63.5" cy="441.1" r="2.62"/><circle cx="66.0" cy="445.1" r="2.62"/><circle cx="124.8" cy="438.1" r="2.62"/><circle cx="147.4" cy="441.1" r="2.62"/><circle cx="82.9" cy="449.6" r="2.62"/><circle cx="145.1" cy="451.4" r="2.62"/><circle cx="172.0" cy="451.9" r="2.62"/><circle cx="216.7" cy="374.1" r="2.62"/><circle cx="233.0" cy="392.6" r="2.62"/><circle cx="263.9" cy="392.6" r="2.62"/><circle cx="263.6" cy="398.7" r="2.62"/><circle cx="273.9" cy="406.9" r="2.62"/><circle cx="192.8" cy="413.0" r="2.62"/><circle cx="236.8" cy="418.0" r="2.62"/><circle cx="174.5" cy="422.5" r="2.62"/><circle cx="311.4" cy="416.7" r="2.62"/><circle cx="318.1" cy="421.5" r="2.62"/><circle cx="304.3" cy="425.0" r="2.62"/><circle cx="272.4" cy="421.2" r="2.62"/><circle cx="273.9" cy="425.0" r="2.62"/><circle cx="276.2" cy="429.3" r="2.62"/><circle cx="266.2" cy="429.3" r="2.62"/><circle cx="269.9" cy="429.3" r="2.62"/><circle cx="234.3" cy="429.3" r="2.62"/><circle cx="219.7" cy="430.8" r="2.62"/><circle cx="209.2" cy="430.8" r="2.62"/><circle cx="191.6" cy="433.0" r="2.62"/><circle cx="196.4" cy="433.0" r="2.62"/><circle cx="218.0" cy="436.8" r="2.62"/><circle cx="215.4" cy="439.6" r="2.62"/><circle cx="234.8" cy="439.6" r="2.62"/><circle cx="246.1" cy="437.1" r="2.62"/><circle cx="268.7" cy="437.1" r="2.62"/><circle cx="270.4" cy="437.6" r="2.62"/><circle cx="281.2" cy="439.8" r="2.62"/><circle cx="273.7" cy="441.8" r="2.62"/><circle cx="258.6" cy="441.3" r="2.62"/><circle cx="229.8" cy="442.6" r="2.62"/><circle cx="226.5" cy="445.1" r="2.62"/><circle cx="249.8" cy="445.3" r="2.62"/><circle cx="271.2" cy="445.3" r="2.62"/><circle cx="202.1" cy="445.1" r="2.62"/><circle cx="195.1" cy="447.6" r="2.62"/><circle cx="233.5" cy="449.4" r="2.62"/><circle cx="262.4" cy="449.9" r="2.62"/><circle cx="213.9" cy="450.6" r="2.62"/><circle cx="224.0" cy="455.5" r="2.62"/><circle cx="228.5" cy="457.3" r="2.62"/><circle cx="238.5" cy="457.3" r="2.62"/><circle cx="244.1" cy="460.3" r="2.62"/><circle cx="274.9" cy="457.3" r="2.62"/><circle cx="295.5" cy="456.8" r="2.62"/><circle cx="293.5" cy="465.5" r="2.62"/><circle cx="250.6" cy="464.8" r="2.62"/><circle cx="220.2" cy="467.3" r="2.62"/><circle cx="211.4" cy="469.1" r="2.62"/><circle cx="202.9" cy="469.8" r="2.62"/><circle cx="229.8" cy="469.8" r="2.62"/><circle cx="177.0" cy="468.1" r="2.62"/><circle cx="172.0" cy="466.6" r="2.62"/><circle cx="277.0" cy="473.6" r="2.62"/><circle cx="187.8" cy="477.8" r="2.62"/><circle cx="228.2" cy="477.8" r="2.62"/><circle cx="201.4" cy="479.9" r="2.62"/><circle cx="212.2" cy="480.4" r="2.62"/><circle cx="254.9" cy="481.6" r="2.62"/><circle cx="172.0" cy="479.9" r="2.62"/><circle cx="236.0" cy="485.4" r="2.62"/><circle cx="174.0" cy="487.1" r="2.62"/><circle cx="207.9" cy="487.9" r="2.62"/><circle cx="257.4" cy="487.4" r="2.62"/><circle cx="238.0" cy="489.9" r="2.62"/><circle cx="259.9" cy="492.2" r="2.62"/><circle cx="274.2" cy="492.2" r="2.62"/><circle cx="268.7" cy="494.2" r="2.62"/><circle cx="239.3" cy="494.2" r="2.62"/><circle cx="215.9" cy="492.2" r="2.62"/><circle cx="223.5" cy="492.2" r="2.62"/><circle cx="226.7" cy="492.2" r="2.62"/><circle cx="207.9" cy="495.9" r="2.62"/><circle cx="197.1" cy="496.2" r="2.62"/><circle cx="192.6" cy="496.7" r="2.62"/><circle cx="185.1" cy="498.2" r="2.62"/><circle cx="188.3" cy="499.9" r="2.62"/><circle cx="218.0" cy="498.2" r="2.62"/><circle cx="205.9" cy="500.4" r="2.62"/><circle cx="189.1" cy="503.0" r="2.62"/><circle cx="190.3" cy="506.2" r="2.62"/><circle cx="228.5" cy="502.4" r="2.62"/><circle cx="231.0" cy="506.2" r="2.62"/><circle cx="174.5" cy="504.2" r="2.62"/><circle cx="175.8" cy="506.7" r="2.62"/><circle cx="172.0" cy="508.0" r="2.62"/><circle cx="182.5" cy="508.0" r="2.62"/><circle cx="176.5" cy="511.7" r="2.62"/><circle cx="184.6" cy="514.2" r="2.62"/><circle cx="197.1" cy="512.2" r="2.62"/><circle cx="203.4" cy="516.0" r="2.62"/><circle cx="217.2" cy="512.2" r="2.62"/><circle cx="217.7" cy="515.0" r="2.62"/><circle cx="237.3" cy="510.2" r="2.62"/><circle cx="258.1" cy="512.5" r="2.62"/><circle cx="176.5" cy="518.3" r="2.62"/><circle cx="217.2" cy="521.3" r="2.62"/><circle cx="237.3" cy="523.0" r="2.62"/><circle cx="273.2" cy="518.3" r="2.62"/><circle cx="271.2" cy="520.5" r="2.62"/><circle cx="267.4" cy="520.5" r="2.62"/><circle cx="266.9" cy="524.5" r="2.62"/><circle cx="258.1" cy="524.5" r="2.62"/><circle cx="253.1" cy="528.6" r="2.62"/><circle cx="173.3" cy="528.6" r="2.62"/><circle cx="189.6" cy="531.6" r="2.62"/><circle cx="175.0" cy="534.3" r="2.62"/><circle cx="177.5" cy="534.3" r="2.62"/><circle cx="195.1" cy="535.6" r="2.62"/><circle cx="188.3" cy="546.6" r="2.62"/><circle cx="193.8" cy="546.6" r="2.62"/><circle cx="64.0" cy="465.5" r="2.62"/><circle cx="62.3" cy="469.7" r="2.62"/><circle cx="63.6" cy="473.8" r="2.62"/><circle cx="73.6" cy="465.5" r="2.62"/><circle cx="80.6" cy="468.8" r="2.62"/><circle cx="74.8" cy="476.3" r="2.62"/><circle cx="144.7" cy="464.7" r="2.62"/><circle cx="137.2" cy="469.7" r="2.62"/><circle cx="147.2" cy="473.8" r="2.62"/><circle cx="128.0" cy="485.0" r="2.62"/><circle cx="122.2" cy="490.0" r="2.62"/><circle cx="117.2" cy="493.0" r="2.62"/><circle cx="118.9" cy="497.2" r="2.62"/><circle cx="120.6" cy="500.5" r="2.62"/><circle cx="71.5" cy="489.7" r="2.62"/><circle cx="78.4" cy="487.7" r="2.62"/><circle cx="79.8" cy="493.9" r="2.62"/><circle cx="94.8" cy="490.5" r="2.62"/><circle cx="68.1" cy="498.0" r="2.62"/><circle cx="69.0" cy="503.0" r="2.62"/><circle cx="74.5" cy="501.4" r="2.62"/><circle cx="93.9" cy="501.7" r="2.62"/><circle cx="98.6" cy="499.4" r="2.62"/><circle cx="88.1" cy="506.4" r="2.62"/><circle cx="83.9" cy="510.5" r="2.62"/><circle cx="83.6" cy="514.7" r="2.62"/><circle cx="92.3" cy="513.5" r="2.62"/><circle cx="113.6" cy="505.2" r="2.62"/><circle cx="133.0" cy="493.0" r="2.62"/><circle cx="138.0" cy="493.5" r="2.62"/><circle cx="140.5" cy="495.5" r="2.62"/><circle cx="139.7" cy="499.7" r="2.62"/><circle cx="137.2" cy="503.9" r="2.62"/><circle cx="142.2" cy="502.2" r="2.62"/><circle cx="143.9" cy="499.7" r="2.62"/><circle cx="151.3" cy="493.9" r="2.62"/><circle cx="152.2" cy="498.0" r="2.62"/><circle cx="158.0" cy="501.4" r="2.62"/><circle cx="129.7" cy="508.0" r="2.62"/><circle cx="120.6" cy="509.7" r="2.62"/><circle cx="122.2" cy="512.2" r="2.62"/><circle cx="119.7" cy="513.9" r="2.62"/><circle cx="144.7" cy="507.2" r="2.62"/><circle cx="143.9" cy="512.2" r="2.62"/><circle cx="148.8" cy="509.7" r="2.62"/><circle cx="153.8" cy="511.4" r="2.62"/><circle cx="153.0" cy="515.5" r="2.62"/><circle cx="131.4" cy="516.4" r="2.62"/><circle cx="137.2" cy="518.0" r="2.62"/><circle cx="142.2" cy="522.2" r="2.62"/><circle cx="148.0" cy="519.7" r="2.62"/><circle cx="157.2" cy="521.4" r="2.62"/><circle cx="156.3" cy="526.1" r="2.62"/><circle cx="105.6" cy="516.0" r="2.62"/><circle cx="110.6" cy="518.0" r="2.62"/><circle cx="99.4" cy="520.6" r="2.62"/><circle cx="62.3" cy="513.9" r="2.62"/><circle cx="65.6" cy="513.9" r="2.62"/><circle cx="69.0" cy="514.7" r="2.62"/><circle cx="64.0" cy="518.0" r="2.62"/><circle cx="61.5" cy="522.2" r="2.62"/><circle cx="71.5" cy="520.6" r="2.62"/><circle cx="74.0" cy="523.1" r="2.62"/><circle cx="69.0" cy="526.4" r="2.62"/><circle cx="88.9" cy="522.2" r="2.62"/><circle cx="92.3" cy="523.9" r="2.62"/><circle cx="95.6" cy="522.2" r="2.62"/><circle cx="113.9" cy="522.2" r="2.62"/><circle cx="117.2" cy="523.9" r="2.62"/><circle cx="121.4" cy="522.2" r="2.62"/><circle cx="123.9" cy="520.6" r="2.62"/><circle cx="134.7" cy="526.1" r="2.62"/><circle cx="132.2" cy="527.2" r="2.62"/><circle cx="129.7" cy="529.7" r="2.62"/><circle cx="127.2" cy="533.9" r="2.62"/><circle cx="129.7" cy="535.6" r="2.62"/><circle cx="143.9" cy="539.4" r="2.62"/><circle cx="121.4" cy="540.6" r="2.62"/><circle cx="125.0" cy="546.1" r="2.62"/><circle cx="116.4" cy="547.2" r="2.62"/><circle cx="97.3" cy="548.6" r="2.62"/><circle cx="92.3" cy="545.6" r="2.62"/><circle cx="93.9" cy="543.1" r="2.62"/><circle cx="111.4" cy="538.1" r="2.62"/><circle cx="113.9" cy="535.6" r="2.62"/><circle cx="117.2" cy="534.7" r="2.62"/><circle cx="119.7" cy="536.4" r="2.62"/><circle cx="108.1" cy="529.7" r="2.62"/><circle cx="110.6" cy="532.2" r="2.62"/><circle cx="113.9" cy="530.6" r="2.62"/><circle cx="117.2" cy="528.9" r="2.62"/><circle cx="120.6" cy="527.2" r="2.62"/><circle cx="102.2" cy="528.1" r="2.62"/><circle cx="104.7" cy="530.6" r="2.62"/><circle cx="107.2" cy="533.9" r="2.62"/><circle cx="109.7" cy="536.4" r="2.62"/><circle cx="98.9" cy="531.4" r="2.62"/><circle cx="101.4" cy="534.7" r="2.62"/><circle cx="103.9" cy="537.2" r="2.62"/><circle cx="106.4" cy="539.7" r="2.62"/><circle cx="108.9" cy="541.4" r="2.62"/><circle cx="110.6" cy="543.9" r="2.62"/><circle cx="167.5" cy="473.8" r="2.62"/><circle cx="162.1" cy="481.9" r="2.62"/><circle cx="168.3" cy="486.0" r="2.62"/><circle cx="160.8" cy="498.0" r="2.62"/><circle cx="165.0" cy="501.4" r="2.62"/><circle cx="170.0" cy="503.9" r="2.62"/><circle cx="160.0" cy="511.0" r="2.62"/><circle cx="164.1" cy="513.9" r="2.62"/><circle cx="169.1" cy="510.5" r="2.62"/><circle cx="168.3" cy="517.2" r="2.62"/><circle cx="162.5" cy="520.6" r="2.62"/><circle cx="161.1" cy="534.7" r="2.62"/><circle cx="84.6" cy="454.5" r="2.62"/><circle cx="84.6" cy="526.7" r="2.62"/><circle cx="87.4" cy="526.9" r="2.62"/><circle cx="92.2" cy="525.7" r="2.62"/><circle cx="94.4" cy="527.0" r="2.62"/><circle cx="98.0" cy="525.7" r="2.62"/><circle cx="83.9" cy="529.2" r="2.62"/><circle cx="87.4" cy="527.7" r="2.62"/><circle cx="90.1" cy="527.3" r="2.62"/><circle cx="93.0" cy="527.9" r="2.62"/><circle cx="95.0" cy="529.6" r="2.62"/><circle cx="97.9" cy="528.6" r="2.62"/><circle cx="53.6" cy="530.6" r="2.62"/><circle cx="55.0" cy="532.4" r="2.62"/><circle cx="58.8" cy="531.9" r="2.62"/><circle cx="79.1" cy="530.3" r="2.62"/><circle cx="80.5" cy="531.9" r="2.62"/><circle cx="84.3" cy="530.0" r="2.62"/><circle cx="89.2" cy="530.3" r="2.62"/><circle cx="89.7" cy="530.9" r="2.62"/><circle cx="94.5" cy="532.0" r="2.62"/><circle cx="96.3" cy="530.8" r="2.62"/><circle cx="55.0" cy="534.8" r="2.62"/><circle cx="58.6" cy="534.8" r="2.62"/><circle cx="61.6" cy="534.7" r="2.62"/><circle cx="74.5" cy="533.0" r="2.62"/><circle cx="76.8" cy="533.8" r="2.62"/><circle cx="79.8" cy="533.1" r="2.62"/><circle cx="84.3" cy="533.4" r="2.62"/><circle cx="86.5" cy="533.9" r="2.62"/><circle cx="88.0" cy="534.3" r="2.62"/><circle cx="91.6" cy="532.8" r="2.62"/><circle cx="94.5" cy="533.1" r="2.62"/><circle cx="97.8" cy="534.5" r="2.62"/><circle cx="52.6" cy="538.2" r="2.62"/><circle cx="57.1" cy="538.3" r="2.62"/><circle cx="58.2" cy="536.7" r="2.62"/><circle cx="61.5" cy="537.1" r="2.62"/><circle cx="69.2" cy="536.2" r="2.62"/><circle cx="71.6" cy="536.9" r="2.62"/><circle cx="73.6" cy="535.5" r="2.62"/><circle cx="77.9" cy="535.7" r="2.62"/><circle cx="82.0" cy="536.1" r="2.62"/><circle cx="83.4" cy="535.9" r="2.62"/><circle cx="87.0" cy="536.0" r="2.62"/><circle cx="91.1" cy="536.8" r="2.62"/><circle cx="93.7" cy="537.3" r="2.62"/><circle cx="96.6" cy="538.0" r="2.62"/><circle cx="52.3" cy="540.3" r="2.62"/><circle cx="54.0" cy="539.7" r="2.62"/><circle cx="57.6" cy="538.3" r="2.62"/><circle cx="60.4" cy="539.7" r="2.62"/><circle cx="62.9" cy="538.5" r="2.62"/><circle cx="67.9" cy="539.2" r="2.62"/><circle cx="70.3" cy="540.8" r="2.62"/><circle cx="73.7" cy="539.0" r="2.62"/><circle cx="78.0" cy="539.3" r="2.62"/><circle cx="78.4" cy="540.2" r="2.62"/><circle cx="81.9" cy="539.1" r="2.62"/><circle cx="87.2" cy="540.1" r="2.62"/><circle cx="88.0" cy="539.5" r="2.62"/><circle cx="92.3" cy="539.6" r="2.62"/><circle cx="95.0" cy="539.9" r="2.62"/><circle cx="97.8" cy="539.0" r="2.62"/><circle cx="52.2" cy="543.7" r="2.62"/><circle cx="54.6" cy="543.1" r="2.62"/><circle cx="58.1" cy="542.6" r="2.62"/><circle cx="61.9" cy="542.3" r="2.62"/><circle cx="66.1" cy="542.1" r="2.62"/><circle cx="67.5" cy="541.3" r="2.62"/><circle cx="70.6" cy="543.4" r="2.62"/><circle cx="75.4" cy="543.7" r="2.62"/><circle cx="78.8" cy="541.0" r="2.62"/><circle cx="81.9" cy="543.2" r="2.62"/><circle cx="85.2" cy="542.4" r="2.62"/><circle cx="87.4" cy="542.3" r="2.62"/><circle cx="91.9" cy="541.7" r="2.62"/><circle cx="94.3" cy="542.3" r="2.62"/><circle cx="98.7" cy="543.3" r="2.62"/><circle cx="52.2" cy="546.1" r="2.62"/><circle cx="53.6" cy="544.4" r="2.62"/><circle cx="57.4" cy="544.5" r="2.62"/><circle cx="60.4" cy="545.7" r="2.62"/><circle cx="65.0" cy="545.4" r="2.62"/><circle cx="67.9" cy="544.0" r="2.62"/><circle cx="69.8" cy="546.6" r="2.62"/><circle cx="72.4" cy="544.9" r="2.62"/><circle cx="75.4" cy="544.0" r="2.62"/><circle cx="80.9" cy="546.6" r="2.62"/><circle cx="83.4" cy="544.1" r="2.62"/><circle cx="85.6" cy="544.4" r="2.62"/><circle cx="89.9" cy="545.7" r="2.62"/><circle cx="92.4" cy="545.2" r="2.62"/><circle cx="94.7" cy="545.3" r="2.62"/><circle cx="51.4" cy="548.0" r="2.62"/><circle cx="56.4" cy="547.2" r="2.62"/><circle cx="60.1" cy="547.8" r="2.62"/><circle cx="62.8" cy="547.7" r="2.62"/><circle cx="66.8" cy="548.8" r="2.62"/><circle cx="68.8" cy="546.9" r="2.62"/><circle cx="71.6" cy="546.6" r="2.62"/><circle cx="75.3" cy="549.0" r="2.62"/><circle cx="77.3" cy="548.0" r="2.62"/><circle cx="81.3" cy="547.7" r="2.62"/><circle cx="85.2" cy="549.2" r="2.62"/><circle cx="88.4" cy="547.9" r="2.62"/><circle cx="92.3" cy="547.5" r="2.62"/><circle cx="53.9" cy="551.2" r="2.62"/><circle cx="58.8" cy="551.1" r="2.62"/><circle cx="59.2" cy="550.6" r="2.62"/><circle cx="64.4" cy="551.8" r="2.62"/><circle cx="67.4" cy="551.6" r="2.62"/><circle cx="68.8" cy="552.0" r="2.62"/><circle cx="74.1" cy="551.0" r="2.62"/><circle cx="77.8" cy="551.8" r="2.62"/><circle cx="78.6" cy="551.6" r="2.62"/><circle cx="83.8" cy="549.8" r="2.62"/><circle cx="86.9" cy="551.0" r="2.62"/><circle cx="51.8" cy="554.8" r="2.62"/><circle cx="54.6" cy="552.1" r="2.62"/><circle cx="59.0" cy="554.5" r="2.62"/><circle cx="62.7" cy="554.2" r="2.62"/><circle cx="65.4" cy="554.0" r="2.62"/><circle cx="68.1" cy="552.8" r="2.62"/><circle cx="71.8" cy="552.1" r="2.62"/><circle cx="73.8" cy="554.2" r="2.62"/><circle cx="77.3" cy="554.2" r="2.62"/><circle cx="82.2" cy="553.2" r="2.62"/><circle cx="106.8" cy="521.2" r="2.62"/><circle cx="110.0" cy="520.5" r="2.62"/><circle cx="106.3" cy="522.5" r="2.62"/><circle cx="109.3" cy="524.1" r="2.62"/><circle cx="112.9" cy="522.8" r="2.62"/><circle cx="100.9" cy="524.9" r="2.62"/><circle cx="103.9" cy="525.9" r="2.62"/><circle cx="107.1" cy="527.4" r="2.62"/><circle cx="111.6" cy="526.7" r="2.62"/><circle cx="113.6" cy="525.4" r="2.62"/><circle cx="101.5" cy="528.5" r="2.62"/><circle cx="104.5" cy="530.8" r="2.62"/><circle cx="107.6" cy="530.4" r="2.62"/><circle cx="112.0" cy="528.9" r="2.62"/><circle cx="103.3" cy="531.4" r="2.62"/><circle cx="106.8" cy="531.8" r="2.62"/><circle cx="111.9" cy="533.8" r="2.62"/><circle cx="114.0" cy="532.9" r="2.62"/><circle cx="103.0" cy="535.0" r="2.62"/><circle cx="103.9" cy="534.7" r="2.62"/><circle cx="107.8" cy="536.2" r="2.62"/><circle cx="100.8" cy="537.8" r="2.62"/><circle cx="104.4" cy="539.1" r="2.62"/><circle cx="106.7" cy="539.8" r="2.62"/><circle cx="102.2" cy="543.3" r="2.62"/><circle cx="115.0" cy="519.9" r="2.62"/><circle cx="117.8" cy="522.2" r="2.62"/><circle cx="121.3" cy="522.5" r="2.62"/><circle cx="122.1" cy="526.3" r="2.62"/><circle cx="118.1" cy="527.7" r="2.62"/><circle cx="122.1" cy="531.2" r="2.62"/><circle cx="51.5" cy="555.4" r="2.62"/><circle cx="55.075" cy="555.4" r="2.62"/><circle cx="58.65" cy="555.4" r="2.62"/><circle cx="62.225" cy="555.4" r="2.62"/><circle cx="65.8" cy="555.4" r="2.62"/><circle cx="69.375" cy="555.4" r="2.62"/><circle cx="72.95" cy="555.4" r="2.62"/><circle cx="76.525" cy="555.4" r="2.62"/><circle cx="80.1" cy="555.4" r="2.62"/><circle cx="83.67500000000001" cy="555.4" r="2.62"/><circle cx="87.25" cy="555.4" r="2.62"/><circle cx="90.825" cy="555.4" r="2.62"/></g><path d="M51.5 542.5L318.3 435.1" stroke="#1d1a1b" stroke-width="3.8" fill="none"/><path d="M391.5 321.3V566.7H685" fill="none" stroke="#6b6b6b" stroke-width="1"/><path d="M405 566.7v5.2" stroke="#6b6b6b" stroke-width="1"/><text x="405" y="585.0" text-anchor="middle" font-size="11">0</text><path d="M470.3 566.7v5.2" stroke="#6b6b6b" stroke-width="1"/><text x="470.3" y="585.0" text-anchor="middle" font-size="11">20</text><path d="M535.6 566.7v5.2" stroke="#6b6b6b" stroke-width="1"/><text x="535.6" y="585.0" text-anchor="middle" font-size="11">40</text><path d="M600.6 566.7v5.2" stroke="#6b6b6b" stroke-width="1"/><text x="600.6" y="585.0" text-anchor="middle" font-size="11">60</text><path d="M666.2 566.7v5.2" stroke="#6b6b6b" stroke-width="1"/><text x="666.2" y="585.0" text-anchor="middle" font-size="11">80</text><path d="M391.5 555.4h-5.2" stroke="#6b6b6b" stroke-width="1"/><text x="379.9" y="559.3" text-anchor="end" font-size="11">0</text><path d="M391.5 474.4h-5.2" stroke="#6b6b6b" stroke-width="1"/><text x="379.9" y="478.29999999999995" text-anchor="end" font-size="11">2</text><path d="M391.5 393.4h-5.2" stroke="#6b6b6b" stroke-width="1"/><text x="379.9" y="397.29999999999995" text-anchor="end" font-size="11">4</text><text x="480" y="603" font-size="12" textLength="117.4" lengthAdjust="spacingAndGlyphs">Oral reading fluency</text><text transform="translate(364.5 505.2) rotate(-90)" font-size="12" textLength="131.3" lengthAdjust="spacingAndGlyphs">Reading comprehension</text><text x="354.3" y="326.4" font-weight="bold" font-size="17.8" fill="#1a1a1a" stroke="#1a1a1a" stroke-width="0.7" textLength="11.5" lengthAdjust="spacingAndGlyphs">d</text><text x="406" y="335.8" font-size="12" textLength="159.7" lengthAdjust="spacingAndGlyphs"><tspan font-style="italic">N</tspan> = 730, <tspan font-style="italic">r</tspan> = 0.769, <tspan font-style="italic">P</tspan> &lt; 0.001</text><path d="M405.0 544.8L411.7 541.2L418.3 537.6L425.0 534.0L431.7 530.4L438.4 526.8L445.0 523.1L451.7 519.4L458.4 515.7L465.0 511.9L471.7 508.0L478.4 504.1L485.0 500.2L491.7 496.2L498.4 492.2L505.0 488.2L511.7 484.2L518.4 480.2L525.1 476.2L531.7 472.2L538.4 468.2L545.1 464.2L551.7 460.1L558.4 456.1L565.1 452.1L571.8 448.1L578.4 444.0L585.1 440.0L591.8 436.0L598.4 432.0L605.1 427.9L611.8 423.9L618.4 419.9L625.1 415.9L631.8 411.8L638.4 407.8L645.1 403.8L651.8 399.7L658.5 395.7L665.1 391.7L671.8 387.6L671.8 403.2L665.1 406.7L658.5 410.3L651.8 413.8L645.1 417.4L638.4 420.9L631.8 424.5L625.1 428.0L618.4 431.6L611.8 435.1L605.1 438.7L598.4 442.2L591.8 445.8L585.1 449.3L578.4 452.9L571.8 456.4L565.1 460.0L558.4 463.5L551.7 467.1L545.1 470.7L538.4 474.2L531.7 477.8L525.1 481.3L518.4 484.9L511.7 488.5L505.0 492.1L498.4 495.7L491.7 499.3L485.0 502.9L478.4 506.5L471.7 510.2L465.0 513.9L458.4 517.7L451.7 521.5L445.0 525.4L438.4 529.3L431.7 533.3L425.0 537.2L418.3 541.2L411.7 545.2L405.0 549.2Z" fill="#d3d4d6"/><g fill="#1d1a1b"><circle cx="413.8" cy="404.9" r="2.62"/><circle cx="477.1" cy="396.4" r="2.62"/><circle cx="486.1" cy="393.1" r="2.62"/><circle cx="515.5" cy="400.9" r="2.62"/><circle cx="491.6" cy="422.5" r="2.62"/><circle cx="497.2" cy="425.3" r="2.62"/><circle cx="477.1" cy="429.3" r="2.62"/><circle cx="413.6" cy="433.0" r="2.62"/><circle cx="413.6" cy="436.8" r="2.62"/><circle cx="412.5" cy="440.6" r="2.62"/><circle cx="412.3" cy="444.3" r="2.62"/><circle cx="415.6" cy="449.4" r="2.62"/><circle cx="452.5" cy="441.3" r="2.62"/><circle cx="474.3" cy="437.8" r="2.62"/><circle cx="482.1" cy="440.8" r="2.62"/><circle cx="499.7" cy="445.3" r="2.62"/><circle cx="507.2" cy="450.1" r="2.62"/><circle cx="486.4" cy="451.4" r="2.62"/><circle cx="554.9" cy="361.8" r="2.62"/><circle cx="523.5" cy="364.5" r="2.62"/><circle cx="546.9" cy="374.1" r="2.62"/><circle cx="544.4" cy="392.6" r="2.62"/><circle cx="554.4" cy="396.6" r="2.62"/><circle cx="550.2" cy="413.0" r="2.62"/><circle cx="525.6" cy="418.0" r="2.62"/><circle cx="529.3" cy="421.2" r="2.62"/><circle cx="626.7" cy="406.7" r="2.62"/><circle cx="598.4" cy="412.7" r="2.62"/><circle cx="605.2" cy="416.7" r="2.62"/><circle cx="588.3" cy="416.7" r="2.62"/><circle cx="594.1" cy="421.2" r="2.62"/><circle cx="569.5" cy="421.2" r="2.62"/><circle cx="564.5" cy="425.0" r="2.62"/><circle cx="565.7" cy="428.8" r="2.62"/><circle cx="581.3" cy="425.0" r="2.62"/><circle cx="572.8" cy="429.3" r="2.62"/><circle cx="575.8" cy="429.8" r="2.62"/><circle cx="578.3" cy="431.0" r="2.62"/><circle cx="603.9" cy="429.3" r="2.62"/><circle cx="609.7" cy="430.5" r="2.62"/><circle cx="544.4" cy="433.0" r="2.62"/><circle cx="549.4" cy="433.0" r="2.62"/><circle cx="550.7" cy="436.8" r="2.62"/><circle cx="553.9" cy="437.6" r="2.62"/><circle cx="559.5" cy="437.3" r="2.62"/><circle cx="556.9" cy="439.6" r="2.62"/><circle cx="555.7" cy="441.8" r="2.62"/><circle cx="528.6" cy="437.3" r="2.62"/><circle cx="534.8" cy="439.3" r="2.62"/><circle cx="577.5" cy="439.8" r="2.62"/><circle cx="572.5" cy="442.3" r="2.62"/><circle cx="570.2" cy="445.1" r="2.62"/><circle cx="526.3" cy="445.1" r="2.62"/><circle cx="555.2" cy="445.1" r="2.62"/><circle cx="559.0" cy="449.9" r="2.62"/><circle cx="548.2" cy="447.6" r="2.62"/><circle cx="535.1" cy="449.6" r="2.62"/><circle cx="545.6" cy="451.4" r="2.62"/><circle cx="519.3" cy="451.9" r="2.62"/><circle cx="658.6" cy="398.7" r="2.62"/><circle cx="671.7" cy="392.9" r="2.62"/><circle cx="597.1" cy="457.0" r="2.62"/><circle cx="556.9" cy="457.5" r="2.62"/><circle cx="535.6" cy="454.5" r="2.62"/><circle cx="524.3" cy="456.5" r="2.62"/><circle cx="529.3" cy="458.0" r="2.62"/><circle cx="518.0" cy="459.5" r="2.62"/><circle cx="513.0" cy="458.5" r="2.62"/><circle cx="543.1" cy="461.5" r="2.62"/><circle cx="520.5" cy="464.0" r="2.62"/><circle cx="527.6" cy="465.0" r="2.62"/><circle cx="523.0" cy="467.8" r="2.62"/><circle cx="534.3" cy="467.3" r="2.62"/><circle cx="541.9" cy="469.6" r="2.62"/><circle cx="522.5" cy="473.6" r="2.62"/><circle cx="551.9" cy="463.5" r="2.62"/><circle cx="581.3" cy="473.6" r="2.62"/><circle cx="534.3" cy="477.8" r="2.62"/><circle cx="530.6" cy="479.1" r="2.62"/><circle cx="536.1" cy="480.6" r="2.62"/><circle cx="528.6" cy="481.6" r="2.62"/><circle cx="531.8" cy="482.1" r="2.62"/><circle cx="600.4" cy="480.6" r="2.62"/><circle cx="548.2" cy="485.6" r="2.62"/><circle cx="600.4" cy="487.9" r="2.62"/><circle cx="623.5" cy="489.9" r="2.62"/><circle cx="543.1" cy="492.2" r="2.62"/><circle cx="545.1" cy="493.7" r="2.62"/><circle cx="549.9" cy="492.2" r="2.62"/><circle cx="554.4" cy="492.2" r="2.62"/><circle cx="596.6" cy="492.2" r="2.62"/><circle cx="602.9" cy="492.2" r="2.62"/><circle cx="604.6" cy="494.2" r="2.62"/><circle cx="590.3" cy="496.7" r="2.62"/><circle cx="522.5" cy="494.9" r="2.62"/><circle cx="524.8" cy="498.2" r="2.62"/><circle cx="526.8" cy="501.7" r="2.62"/><circle cx="516.8" cy="500.7" r="2.62"/><circle cx="518.8" cy="501.7" r="2.62"/><circle cx="518.0" cy="506.2" r="2.62"/><circle cx="513.0" cy="505.5" r="2.62"/><circle cx="537.6" cy="503.0" r="2.62"/><circle cx="584.1" cy="506.2" r="2.62"/><circle cx="584.6" cy="510.0" r="2.62"/><circle cx="585.8" cy="514.5" r="2.62"/><circle cx="535.1" cy="512.2" r="2.62"/><circle cx="547.4" cy="514.2" r="2.62"/><circle cx="543.9" cy="516.0" r="2.62"/><circle cx="523.0" cy="514.2" r="2.62"/><circle cx="575.8" cy="518.8" r="2.62"/><circle cx="573.3" cy="520.0" r="2.62"/><circle cx="576.3" cy="520.5" r="2.62"/><circle cx="522.5" cy="520.0" r="2.62"/><circle cx="536.9" cy="521.3" r="2.62"/><circle cx="522.5" cy="523.0" r="2.62"/><circle cx="565.0" cy="524.3" r="2.62"/><circle cx="572.0" cy="524.5" r="2.62"/><circle cx="561.2" cy="528.6" r="2.62"/><circle cx="515.0" cy="526.8" r="2.62"/><circle cx="533.6" cy="546.6" r="2.62"/><circle cx="538.9" cy="546.6" r="2.62"/><circle cx="412.0" cy="465.5" r="2.62"/><circle cx="412.0" cy="469.7" r="2.62"/><circle cx="450.3" cy="465.5" r="2.62"/><circle cx="453.9" cy="458.0" r="2.62"/><circle cx="457.6" cy="471.7" r="2.62"/><circle cx="467.6" cy="464.7" r="2.62"/><circle cx="472.6" cy="469.7" r="2.62"/><circle cx="475.2" cy="480.0" r="2.62"/><circle cx="486.7" cy="465.0" r="2.62"/><circle cx="482.7" cy="469.3" r="2.62"/><circle cx="484.7" cy="473.8" r="2.62"/><circle cx="488.0" cy="473.8" r="2.62"/><circle cx="503.0" cy="465.0" r="2.62"/><circle cx="508.0" cy="469.3" r="2.62"/><circle cx="510.5" cy="468.0" r="2.62"/><circle cx="503.8" cy="473.8" r="2.62"/><circle cx="506.3" cy="477.2" r="2.62"/><circle cx="510.5" cy="475.5" r="2.62"/><circle cx="501.4" cy="458.0" r="2.62"/><circle cx="439.4" cy="485.5" r="2.62"/><circle cx="438.6" cy="490.0" r="2.62"/><circle cx="434.3" cy="493.9" r="2.62"/><circle cx="438.1" cy="499.7" r="2.62"/><circle cx="461.9" cy="485.0" r="2.62"/><circle cx="458.1" cy="488.0" r="2.62"/><circle cx="455.6" cy="490.5" r="2.62"/><circle cx="456.4" cy="493.9" r="2.62"/><circle cx="470.2" cy="486.0" r="2.62"/><circle cx="477.2" cy="486.4" r="2.62"/><circle cx="481.7" cy="488.9" r="2.62"/><circle cx="480.5" cy="493.0" r="2.62"/><circle cx="486.9" cy="489.7" r="2.62"/><circle cx="490.5" cy="483.9" r="2.62"/><circle cx="494.2" cy="482.2" r="2.62"/><circle cx="495.5" cy="486.4" r="2.62"/><circle cx="498.9" cy="487.7" r="2.62"/><circle cx="461.4" cy="493.9" r="2.62"/><circle cx="463.1" cy="497.2" r="2.62"/><circle cx="467.2" cy="493.9" r="2.62"/><circle cx="465.6" cy="501.4" r="2.62"/><circle cx="472.2" cy="498.0" r="2.62"/><circle cx="475.6" cy="495.5" r="2.62"/><circle cx="478.9" cy="498.0" r="2.62"/><circle cx="482.2" cy="498.9" r="2.62"/><circle cx="473.9" cy="502.2" r="2.62"/><circle cx="477.2" cy="503.0" r="2.62"/><circle cx="480.5" cy="503.9" r="2.62"/><circle cx="484.7" cy="501.4" r="2.62"/><circle cx="487.2" cy="504.7" r="2.62"/><circle cx="449.8" cy="498.0" r="2.62"/><circle cx="447.3" cy="502.2" r="2.62"/><circle cx="448.9" cy="506.4" r="2.62"/><circle cx="453.9" cy="501.4" r="2.62"/><circle cx="456.4" cy="503.9" r="2.62"/><circle cx="455.6" cy="508.0" r="2.62"/><circle cx="458.9" cy="506.4" r="2.62"/><circle cx="461.4" cy="508.0" r="2.62"/><circle cx="489.7" cy="506.4" r="2.62"/><circle cx="492.2" cy="503.9" r="2.62"/><circle cx="495.5" cy="508.0" r="2.62"/><circle cx="498.4" cy="502.7" r="2.62"/><circle cx="496.4" cy="511.4" r="2.62"/><circle cx="507.2" cy="496.7" r="2.62"/><circle cx="506.3" cy="502.2" r="2.62"/><circle cx="510.2" cy="512.2" r="2.62"/><circle cx="478.9" cy="510.5" r="2.62"/><circle cx="483.9" cy="513.9" r="2.62"/><circle cx="486.4" cy="516.4" r="2.62"/><circle cx="490.5" cy="513.0" r="2.62"/><circle cx="485.5" cy="510.5" r="2.62"/><circle cx="465.6" cy="509.7" r="2.62"/><circle cx="468.9" cy="511.4" r="2.62"/><circle cx="472.2" cy="513.0" r="2.62"/><circle cx="474.7" cy="516.4" r="2.62"/><circle cx="471.4" cy="517.2" r="2.62"/><circle cx="467.2" cy="514.7" r="2.62"/><circle cx="463.9" cy="513.0" r="2.62"/><circle cx="465.6" cy="508.0" r="2.62"/><circle cx="426.5" cy="510.0" r="2.62"/><circle cx="429.8" cy="511.0" r="2.62"/><circle cx="424.0" cy="513.9" r="2.62"/><circle cx="436.4" cy="513.0" r="2.62"/><circle cx="420.6" cy="518.0" r="2.62"/><circle cx="419.8" cy="521.4" r="2.62"/><circle cx="432.3" cy="516.4" r="2.62"/><circle cx="434.8" cy="519.7" r="2.62"/><circle cx="438.9" cy="518.9" r="2.62"/><circle cx="442.3" cy="516.4" r="2.62"/><circle cx="445.6" cy="513.0" r="2.62"/><circle cx="448.9" cy="511.4" r="2.62"/><circle cx="452.3" cy="510.5" r="2.62"/><circle cx="452.3" cy="514.7" r="2.62"/><circle cx="448.9" cy="517.2" r="2.62"/><circle cx="446.4" cy="519.7" r="2.62"/><circle cx="456.4" cy="514.7" r="2.62"/><circle cx="458.9" cy="516.4" r="2.62"/><circle cx="461.4" cy="513.9" r="2.62"/><circle cx="481.4" cy="520.6" r="2.62"/><circle cx="479.7" cy="523.9" r="2.62"/><circle cx="478.9" cy="528.9" r="2.62"/><circle cx="469.7" cy="522.2" r="2.62"/><circle cx="472.2" cy="524.7" r="2.62"/><circle cx="463.9" cy="523.9" r="2.62"/><circle cx="458.9" cy="524.7" r="2.62"/><circle cx="457.2" cy="528.1" r="2.62"/><circle cx="459.7" cy="531.4" r="2.62"/><circle cx="497.7" cy="531.4" r="2.62"/><circle cx="476.7" cy="534.7" r="2.62"/><circle cx="480.5" cy="534.7" r="2.62"/><circle cx="483.9" cy="534.7" r="2.62"/><circle cx="487.5" cy="534.7" r="2.62"/><circle cx="470.2" cy="534.7" r="2.62"/><circle cx="462.2" cy="535.6" r="2.62"/><circle cx="459.7" cy="539.7" r="2.62"/><circle cx="481.7" cy="539.7" r="2.62"/><circle cx="471.4" cy="541.4" r="2.62"/><circle cx="464.7" cy="543.9" r="2.62"/><circle cx="413.5" cy="530.6" r="2.62"/><circle cx="405.7" cy="538.9" r="2.62"/><circle cx="453.9" cy="534.7" r="2.62"/><circle cx="450.6" cy="538.1" r="2.62"/><circle cx="451.4" cy="543.1" r="2.62"/><circle cx="447.3" cy="541.4" r="2.62"/><circle cx="442.3" cy="544.7" r="2.62"/><circle cx="438.9" cy="543.1" r="2.62"/><circle cx="429.0" cy="550.6" r="2.62"/><circle cx="430.6" cy="546.4" r="2.62"/><circle cx="416.8" cy="454.5" r="2.62"/><circle cx="515.5" cy="456.5" r="2.62"/><circle cx="450.3" cy="520.8" r="2.62"/><circle cx="428.4" cy="522.7" r="2.62"/><circle cx="432.3" cy="523.6" r="2.62"/><circle cx="435.8" cy="523.7" r="2.62"/><circle cx="439.5" cy="523.9" r="2.62"/><circle cx="442.1" cy="521.5" r="2.62"/><circle cx="445.9" cy="523.8" r="2.62"/><circle cx="449.2" cy="522.6" r="2.62"/><circle cx="421.9" cy="523.9" r="2.62"/><circle cx="424.4" cy="523.9" r="2.62"/><circle cx="427.9" cy="524.7" r="2.62"/><circle cx="431.5" cy="526.6" r="2.62"/><circle cx="433.6" cy="526.6" r="2.62"/><circle cx="436.3" cy="524.0" r="2.62"/><circle cx="440.3" cy="523.9" r="2.62"/><circle cx="442.4" cy="524.9" r="2.62"/><circle cx="446.8" cy="524.2" r="2.62"/><circle cx="448.3" cy="526.3" r="2.62"/><circle cx="452.3" cy="526.5" r="2.62"/><circle cx="420.5" cy="528.0" r="2.62"/><circle cx="422.2" cy="528.6" r="2.62"/><circle cx="424.9" cy="527.4" r="2.62"/><circle cx="430.2" cy="528.0" r="2.62"/><circle cx="432.2" cy="526.6" r="2.62"/><circle cx="435.0" cy="528.2" r="2.62"/><circle cx="437.1" cy="528.3" r="2.62"/><circle cx="442.0" cy="526.7" r="2.62"/><circle cx="445.2" cy="527.9" r="2.62"/><circle cx="448.5" cy="527.6" r="2.62"/><circle cx="451.8" cy="528.7" r="2.62"/><circle cx="453.1" cy="526.7" r="2.62"/><circle cx="420.3" cy="530.4" r="2.62"/><circle cx="424.8" cy="529.4" r="2.62"/><circle cx="427.4" cy="531.4" r="2.62"/><circle cx="429.9" cy="530.0" r="2.62"/><circle cx="434.5" cy="530.0" r="2.62"/><circle cx="435.9" cy="530.6" r="2.62"/><circle cx="440.6" cy="529.6" r="2.62"/><circle cx="442.7" cy="530.3" r="2.62"/><circle cx="447.4" cy="530.6" r="2.62"/><circle cx="450.7" cy="529.8" r="2.62"/><circle cx="452.4" cy="531.2" r="2.62"/><circle cx="416.9" cy="534.5" r="2.62"/><circle cx="418.3" cy="532.9" r="2.62"/><circle cx="423.3" cy="533.9" r="2.62"/><circle cx="426.5" cy="533.1" r="2.62"/><circle cx="427.8" cy="532.9" r="2.62"/><circle cx="432.9" cy="532.9" r="2.62"/><circle cx="434.8" cy="533.3" r="2.62"/><circle cx="438.2" cy="533.3" r="2.62"/><circle cx="442.8" cy="532.5" r="2.62"/><circle cx="443.4" cy="534.8" r="2.62"/><circle cx="449.1" cy="534.9" r="2.62"/><circle cx="451.0" cy="534.8" r="2.62"/><circle cx="455.7" cy="532.7" r="2.62"/><circle cx="413.6" cy="535.0" r="2.62"/><circle cx="417.9" cy="535.7" r="2.62"/><circle cx="421.7" cy="535.0" r="2.62"/><circle cx="425.2" cy="536.9" r="2.62"/><circle cx="428.5" cy="537.4" r="2.62"/><circle cx="431.6" cy="536.5" r="2.62"/><circle cx="432.2" cy="537.0" r="2.62"/><circle cx="435.9" cy="535.7" r="2.62"/><circle cx="440.5" cy="536.4" r="2.62"/><circle cx="443.0" cy="537.6" r="2.62"/><circle cx="446.8" cy="535.8" r="2.62"/><circle cx="448.9" cy="537.3" r="2.62"/><circle cx="409.7" cy="540.0" r="2.62"/><circle cx="411.9" cy="539.9" r="2.62"/><circle cx="417.2" cy="539.9" r="2.62"/><circle cx="420.2" cy="537.6" r="2.62"/><circle cx="422.8" cy="540.1" r="2.62"/><circle cx="424.3" cy="538.4" r="2.62"/><circle cx="428.2" cy="539.1" r="2.62"/><circle cx="431.8" cy="539.0" r="2.62"/><circle cx="436.0" cy="537.6" r="2.62"/><circle cx="437.2" cy="538.0" r="2.62"/><circle cx="440.6" cy="537.8" r="2.62"/><circle cx="446.2" cy="540.1" r="2.62"/><circle cx="446.8" cy="539.1" r="2.62"/><circle cx="405.1" cy="541.4" r="2.62"/><circle cx="407.1" cy="541.3" r="2.62"/><circle cx="410.1" cy="542.0" r="2.62"/><circle cx="415.1" cy="541.5" r="2.62"/><circle cx="416.4" cy="540.9" r="2.62"/><circle cx="420.5" cy="542.1" r="2.62"/><circle cx="424.8" cy="541.5" r="2.62"/><circle cx="428.1" cy="542.2" r="2.62"/><circle cx="430.2" cy="541.5" r="2.62"/><circle cx="433.6" cy="542.4" r="2.62"/><circle cx="436.6" cy="542.4" r="2.62"/><circle cx="439.9" cy="541.1" r="2.62"/><circle cx="443.3" cy="542.4" r="2.62"/><circle cx="407.6" cy="545.4" r="2.62"/><circle cx="408.9" cy="544.5" r="2.62"/><circle cx="411.7" cy="545.5" r="2.62"/><circle cx="416.5" cy="545.7" r="2.62"/><circle cx="420.1" cy="545.1" r="2.62"/><circle cx="423.1" cy="544.8" r="2.62"/><circle cx="424.5" cy="544.9" r="2.62"/><circle cx="427.4" cy="543.6" r="2.62"/><circle cx="432.8" cy="543.3" r="2.62"/><circle cx="434.1" cy="543.5" r="2.62"/><circle cx="439.5" cy="543.7" r="2.62"/><circle cx="405.6" cy="547.4" r="2.62"/><circle cx="408.7" cy="546.2" r="2.62"/><circle cx="412.0" cy="548.6" r="2.62"/><circle cx="413.2" cy="546.9" r="2.62"/><circle cx="417.8" cy="548.3" r="2.62"/><circle cx="420.1" cy="546.5" r="2.62"/><circle cx="423.3" cy="547.7" r="2.62"/><circle cx="428.0" cy="547.1" r="2.62"/><circle cx="430.1" cy="547.1" r="2.62"/><circle cx="433.2" cy="547.1" r="2.62"/><circle cx="407.6" cy="549.1" r="2.62"/><circle cx="408.5" cy="550.9" r="2.62"/><circle cx="414.0" cy="550.2" r="2.62"/><circle cx="415.9" cy="550.8" r="2.62"/><circle cx="418.3" cy="549.5" r="2.62"/><circle cx="421.6" cy="550.4" r="2.62"/><circle cx="425.1" cy="549.4" r="2.62"/><circle cx="407.9" cy="553.9" r="2.62"/><circle cx="412.2" cy="553.1" r="2.62"/><circle cx="414.4" cy="553.6" r="2.62"/><circle cx="418.7" cy="552.6" r="2.62"/><circle cx="423.9" cy="552.1" r="2.62"/><circle cx="452.2" cy="509.0" r="2.62"/><circle cx="460.3" cy="508.8" r="2.62"/><circle cx="462.7" cy="509.8" r="2.62"/><circle cx="446.0" cy="512.1" r="2.62"/><circle cx="450.1" cy="511.4" r="2.62"/><circle cx="452.5" cy="511.5" r="2.62"/><circle cx="459.0" cy="510.2" r="2.62"/><circle cx="461.9" cy="511.0" r="2.62"/><circle cx="467.0" cy="511.4" r="2.62"/><circle cx="421.3" cy="515.2" r="2.62"/><circle cx="426.3" cy="516.6" r="2.62"/><circle cx="429.8" cy="516.9" r="2.62"/><circle cx="433.1" cy="514.7" r="2.62"/><circle cx="444.0" cy="516.4" r="2.62"/><circle cx="445.9" cy="514.4" r="2.62"/><circle cx="451.0" cy="516.5" r="2.62"/><circle cx="456.7" cy="516.5" r="2.62"/><circle cx="460.1" cy="514.2" r="2.62"/><circle cx="463.5" cy="514.4" r="2.62"/><circle cx="425.1" cy="517.4" r="2.62"/><circle cx="429.4" cy="520.7" r="2.62"/><circle cx="434.1" cy="518.8" r="2.62"/><circle cx="436.8" cy="519.5" r="2.62"/><circle cx="441.3" cy="521.0" r="2.62"/><circle cx="445.7" cy="518.5" r="2.62"/><circle cx="450.6" cy="519.2" r="2.62"/><circle cx="453.8" cy="520.1" r="2.62"/><circle cx="455.8" cy="520.2" r="2.62"/><circle cx="462.4" cy="519.2" r="2.62"/><circle cx="420.8" cy="523.0" r="2.62"/><circle cx="445.4" cy="522.3" r="2.62"/><circle cx="450.3" cy="521.3" r="2.62"/><circle cx="455.7" cy="524.5" r="2.62"/><circle cx="459.1" cy="524.3" r="2.62"/><circle cx="465.9" cy="523.1" r="2.62"/><circle cx="459.0" cy="525.2" r="2.62"/><circle cx="465.2" cy="524.0" r="2.62"/><circle cx="470.0" cy="525.2" r="2.62"/><circle cx="456.5" cy="529.3" r="2.62"/><circle cx="459.9" cy="529.7" r="2.62"/><circle cx="463.9" cy="529.0" r="2.62"/><circle cx="470.2" cy="528.7" r="2.62"/><circle cx="463.3" cy="532.5" r="2.62"/><circle cx="470.6" cy="490.9" r="2.62"/><circle cx="476.5" cy="491.8" r="2.62"/><circle cx="479.4" cy="490.4" r="2.62"/><circle cx="487.4" cy="491.5" r="2.62"/><circle cx="459.2" cy="497.6" r="2.62"/><circle cx="462.2" cy="495.1" r="2.62"/><circle cx="469.0" cy="499.2" r="2.62"/><circle cx="473.8" cy="494.7" r="2.62"/><circle cx="476.3" cy="495.1" r="2.62"/><circle cx="482.2" cy="494.8" r="2.62"/><circle cx="486.8" cy="497.7" r="2.62"/><circle cx="451.8" cy="500.1" r="2.62"/><circle cx="457.4" cy="501.4" r="2.62"/><circle cx="461.8" cy="503.5" r="2.62"/><circle cx="467.6" cy="499.3" r="2.62"/><circle cx="469.8" cy="502.0" r="2.62"/><circle cx="478.0" cy="499.6" r="2.62"/><circle cx="480.2" cy="503.1" r="2.62"/><circle cx="484.5" cy="501.0" r="2.62"/><circle cx="490.8" cy="502.4" r="2.62"/><circle cx="449.3" cy="504.5" r="2.62"/><circle cx="453.7" cy="507.1" r="2.62"/><circle cx="459.3" cy="506.3" r="2.62"/><circle cx="464.9" cy="505.4" r="2.62"/><circle cx="467.7" cy="504.7" r="2.62"/><circle cx="474.6" cy="505.9" r="2.62"/><circle cx="477.5" cy="504.5" r="2.62"/><circle cx="484.8" cy="506.5" r="2.62"/><circle cx="489.9" cy="505.5" r="2.62"/><circle cx="449.9" cy="508.9" r="2.62"/><circle cx="456.1" cy="508.3" r="2.62"/><circle cx="460.2" cy="511.7" r="2.62"/><circle cx="466.4" cy="508.6" r="2.62"/><circle cx="469.5" cy="512.1" r="2.62"/><circle cx="476.6" cy="512.3" r="2.62"/><circle cx="482.9" cy="510.3" r="2.62"/><circle cx="488.2" cy="511.6" r="2.62"/><circle cx="458.1" cy="513.2" r="2.62"/><circle cx="466.9" cy="512.9" r="2.62"/><circle cx="471.7" cy="515.7" r="2.62"/><circle cx="478.9" cy="512.7" r="2.62"/><circle cx="405.0" cy="555.4" r="2.62"/><circle cx="406.632" cy="555.4" r="2.62"/><circle cx="408.264" cy="555.4" r="2.62"/><circle cx="409.896" cy="555.4" r="2.62"/><circle cx="411.528" cy="555.4" r="2.62"/><circle cx="413.16" cy="555.4" r="2.62"/><circle cx="414.792" cy="555.4" r="2.62"/><circle cx="416.424" cy="555.4" r="2.62"/><circle cx="418.056" cy="555.4" r="2.62"/></g><path d="M405 547L671.8 395.4" stroke="#1d1a1b" stroke-width="3.8" fill="none"/></g></svg></body></html>
